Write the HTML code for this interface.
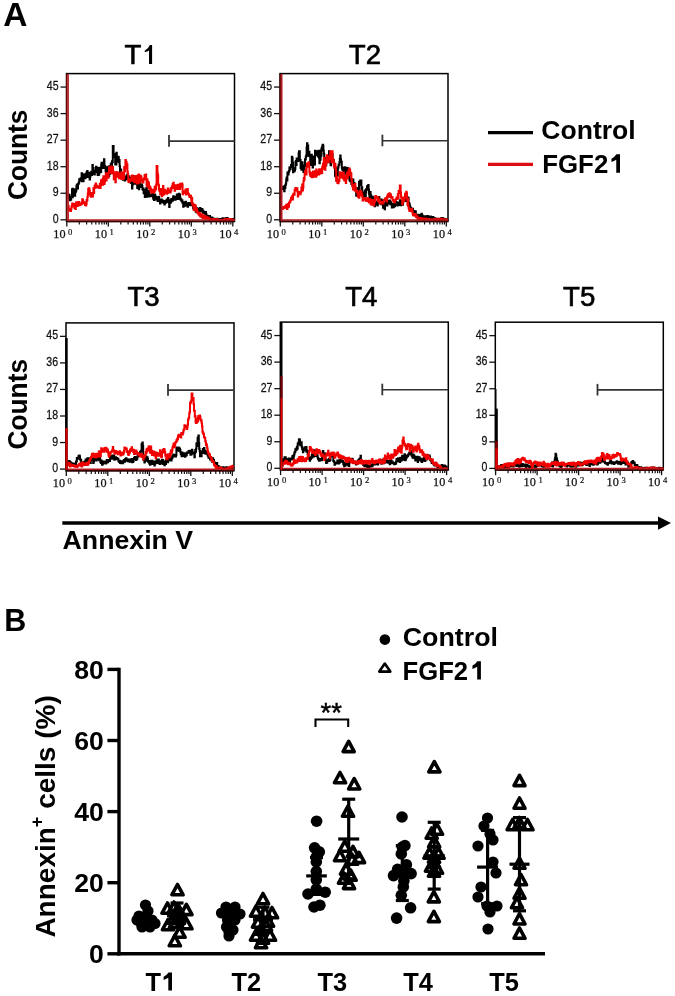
<!DOCTYPE html>
<html><head><meta charset="utf-8"><style>
html,body{margin:0;padding:0;background:#fff;}
svg{display:block;will-change:transform;}
</style></head><body>
<svg width="675" height="996" viewBox="0 0 675 996">
<rect width="675" height="996" fill="#fff"/>
<text x="124.4" y="64.0" font-size="27.6" stroke="#000" stroke-width="0.65" font-family='"Liberation Sans", sans-serif'>T</text>
<path d="M149.9 45.0 L152.1 45.0 L152.1 63.9 L149.0 63.9 L149.0 50.4 Q147.4 51.6 145.3 52.0 Q144.6 51.8 144.6 51.0 Q144.9 50.2 145.6 49.9 Q148.5 48.3 149.9 45.0 Z" fill="#000"/>
<rect x="66.50" y="73.60" width="168.00" height="147.80" fill="none" stroke="#000" stroke-width="1.5"/>
<line x1="60.50" y1="219.80" x2="66.50" y2="219.80" stroke="#111" stroke-width="1.3"/>
<text transform="translate(58.60,222.80) scale(0.86,1)" font-size="12.3" text-anchor="end" fill="#111" stroke="#111" stroke-width="0.25" font-family='"Liberation Sans", sans-serif'>0</text>
<line x1="60.50" y1="193.25" x2="66.50" y2="193.25" stroke="#111" stroke-width="1.3"/>
<text transform="translate(58.60,196.25) scale(0.86,1)" font-size="12.3" text-anchor="end" fill="#111" stroke="#111" stroke-width="0.25" font-family='"Liberation Sans", sans-serif'>9</text>
<line x1="60.50" y1="166.70" x2="66.50" y2="166.70" stroke="#111" stroke-width="1.3"/>
<text transform="translate(58.60,169.70) scale(0.86,1)" font-size="12.3" text-anchor="end" fill="#111" stroke="#111" stroke-width="0.25" font-family='"Liberation Sans", sans-serif'>18</text>
<line x1="60.50" y1="140.15" x2="66.50" y2="140.15" stroke="#111" stroke-width="1.3"/>
<text transform="translate(58.60,143.15) scale(0.86,1)" font-size="12.3" text-anchor="end" fill="#111" stroke="#111" stroke-width="0.25" font-family='"Liberation Sans", sans-serif'>27</text>
<line x1="60.50" y1="113.60" x2="66.50" y2="113.60" stroke="#111" stroke-width="1.3"/>
<text transform="translate(58.60,116.60) scale(0.86,1)" font-size="12.3" text-anchor="end" fill="#111" stroke="#111" stroke-width="0.25" font-family='"Liberation Sans", sans-serif'>36</text>
<line x1="60.50" y1="87.05" x2="66.50" y2="87.05" stroke="#111" stroke-width="1.3"/>
<text transform="translate(58.60,90.05) scale(0.86,1)" font-size="12.3" text-anchor="end" fill="#111" stroke="#111" stroke-width="0.25" font-family='"Liberation Sans", sans-serif'>45</text>
<line x1="66.80" y1="221.40" x2="66.80" y2="226.60" stroke="#111" stroke-width="1.3"/>
<line x1="79.29" y1="221.40" x2="79.29" y2="224.60" stroke="#111" stroke-width="1.2"/>
<line x1="86.60" y1="221.40" x2="86.60" y2="224.60" stroke="#111" stroke-width="1.2"/>
<line x1="91.79" y1="221.40" x2="91.79" y2="224.60" stroke="#111" stroke-width="1.2"/>
<line x1="95.81" y1="221.40" x2="95.81" y2="224.60" stroke="#111" stroke-width="1.2"/>
<line x1="99.09" y1="221.40" x2="99.09" y2="224.60" stroke="#111" stroke-width="1.2"/>
<line x1="101.87" y1="221.40" x2="101.87" y2="224.60" stroke="#111" stroke-width="1.2"/>
<line x1="104.28" y1="221.40" x2="104.28" y2="224.60" stroke="#111" stroke-width="1.2"/>
<line x1="106.40" y1="221.40" x2="106.40" y2="224.60" stroke="#111" stroke-width="1.2"/>
<text x="65.50" y="237.80" font-size="12.2" text-anchor="end" fill="#111" stroke="#111" stroke-width="0.25" font-family='"Liberation Serif", serif'>10</text>
<text x="68.10" y="234.60" font-size="8.6" fill="#111" stroke="#111" stroke-width="0.2" font-family='"Liberation Serif", serif'>0</text>
<line x1="108.30" y1="221.40" x2="108.30" y2="226.60" stroke="#111" stroke-width="1.3"/>
<line x1="120.79" y1="221.40" x2="120.79" y2="224.60" stroke="#111" stroke-width="1.2"/>
<line x1="128.10" y1="221.40" x2="128.10" y2="224.60" stroke="#111" stroke-width="1.2"/>
<line x1="133.29" y1="221.40" x2="133.29" y2="224.60" stroke="#111" stroke-width="1.2"/>
<line x1="137.31" y1="221.40" x2="137.31" y2="224.60" stroke="#111" stroke-width="1.2"/>
<line x1="140.59" y1="221.40" x2="140.59" y2="224.60" stroke="#111" stroke-width="1.2"/>
<line x1="143.37" y1="221.40" x2="143.37" y2="224.60" stroke="#111" stroke-width="1.2"/>
<line x1="145.78" y1="221.40" x2="145.78" y2="224.60" stroke="#111" stroke-width="1.2"/>
<line x1="147.90" y1="221.40" x2="147.90" y2="224.60" stroke="#111" stroke-width="1.2"/>
<text x="107.00" y="237.80" font-size="12.2" text-anchor="end" fill="#111" stroke="#111" stroke-width="0.25" font-family='"Liberation Serif", serif'>10</text>
<text x="109.60" y="234.60" font-size="8.6" fill="#111" stroke="#111" stroke-width="0.2" font-family='"Liberation Serif", serif'>1</text>
<line x1="149.80" y1="221.40" x2="149.80" y2="226.60" stroke="#111" stroke-width="1.3"/>
<line x1="162.29" y1="221.40" x2="162.29" y2="224.60" stroke="#111" stroke-width="1.2"/>
<line x1="169.60" y1="221.40" x2="169.60" y2="224.60" stroke="#111" stroke-width="1.2"/>
<line x1="174.79" y1="221.40" x2="174.79" y2="224.60" stroke="#111" stroke-width="1.2"/>
<line x1="178.81" y1="221.40" x2="178.81" y2="224.60" stroke="#111" stroke-width="1.2"/>
<line x1="182.09" y1="221.40" x2="182.09" y2="224.60" stroke="#111" stroke-width="1.2"/>
<line x1="184.87" y1="221.40" x2="184.87" y2="224.60" stroke="#111" stroke-width="1.2"/>
<line x1="187.28" y1="221.40" x2="187.28" y2="224.60" stroke="#111" stroke-width="1.2"/>
<line x1="189.40" y1="221.40" x2="189.40" y2="224.60" stroke="#111" stroke-width="1.2"/>
<text x="148.50" y="237.80" font-size="12.2" text-anchor="end" fill="#111" stroke="#111" stroke-width="0.25" font-family='"Liberation Serif", serif'>10</text>
<text x="151.10" y="234.60" font-size="8.6" fill="#111" stroke="#111" stroke-width="0.2" font-family='"Liberation Serif", serif'>2</text>
<line x1="191.30" y1="221.40" x2="191.30" y2="226.60" stroke="#111" stroke-width="1.3"/>
<line x1="203.79" y1="221.40" x2="203.79" y2="224.60" stroke="#111" stroke-width="1.2"/>
<line x1="211.10" y1="221.40" x2="211.10" y2="224.60" stroke="#111" stroke-width="1.2"/>
<line x1="216.29" y1="221.40" x2="216.29" y2="224.60" stroke="#111" stroke-width="1.2"/>
<line x1="220.31" y1="221.40" x2="220.31" y2="224.60" stroke="#111" stroke-width="1.2"/>
<line x1="223.59" y1="221.40" x2="223.59" y2="224.60" stroke="#111" stroke-width="1.2"/>
<line x1="226.37" y1="221.40" x2="226.37" y2="224.60" stroke="#111" stroke-width="1.2"/>
<line x1="228.78" y1="221.40" x2="228.78" y2="224.60" stroke="#111" stroke-width="1.2"/>
<line x1="230.90" y1="221.40" x2="230.90" y2="224.60" stroke="#111" stroke-width="1.2"/>
<text x="190.00" y="237.80" font-size="12.2" text-anchor="end" fill="#111" stroke="#111" stroke-width="0.25" font-family='"Liberation Serif", serif'>10</text>
<text x="192.60" y="234.60" font-size="8.6" fill="#111" stroke="#111" stroke-width="0.2" font-family='"Liberation Serif", serif'>3</text>
<line x1="232.80" y1="221.40" x2="232.80" y2="226.60" stroke="#111" stroke-width="1.3"/>
<text x="231.50" y="237.80" font-size="12.2" text-anchor="end" fill="#111" stroke="#111" stroke-width="0.25" font-family='"Liberation Serif", serif'>10</text>
<text x="234.10" y="234.60" font-size="8.6" fill="#111" stroke="#111" stroke-width="0.2" font-family='"Liberation Serif", serif'>4</text>
<path d="M68.00 198.23H68.40V194.60H68.80V195.31H69.20V194.98H69.60V198.35H70.00V200.33H70.40V198.34H70.80V199.61H71.20V197.13H71.60V197.10H72.00V189.29H72.40V197.34H72.80V188.76H73.20V189.72H73.60V189.73H74.00V191.92H74.40V189.56H74.80V195.81H75.20V192.18H75.60V191.57H76.00V190.62H76.40V186.31H76.80V184.81H77.20V184.56H77.60V188.52H78.00V184.17H78.40V183.51H78.80V182.57H79.20V179.24H79.60V180.84H80.00V179.74H80.40V178.62H80.80V179.56H81.20V178.09H81.60V173.27H82.00V181.30H82.40V176.84H82.80V180.60H83.20V181.25H83.60V175.12H84.00V174.29H84.40V177.17H84.80V178.36H85.20V174.14H85.60V177.39H86.00V175.70H86.40V172.57H86.80V172.17H87.20V170.94H87.60V177.11H88.00V173.26H88.40V175.49H88.80V174.98H89.20V172.86H89.60V179.57H90.00V176.82H90.40V174.05H90.80V173.47H91.20V171.66H91.60V175.00H92.00V173.92H92.40V165.03H92.80V170.15H93.20V167.94H93.60V171.17H94.00V172.62H94.40V174.43H94.80V170.92H95.20V170.71H95.60V172.21H96.00V166.81H96.40V167.61H96.80V172.13H97.20V168.07H97.60V174.97H98.00V171.48H98.40V172.15H98.80V174.64H99.20V172.73H99.60V167.73H100.00V171.97H100.40V167.84H100.80V171.94H101.20V164.57H101.60V162.70H102.00V162.70H102.40V162.72H102.80V167.99H103.20V162.46H103.60V164.90H104.00V159.16H104.40V165.75H104.80V166.01H105.20V167.97H105.60V171.30H106.00V173.06H106.40V171.04H106.80V167.31H107.20V176.89H107.60V168.03H108.00V169.37H108.40V166.71H108.80V176.08H109.20V166.33H109.60V173.75H110.00V166.75H110.40V167.54H110.80V163.44H111.20V166.63H111.60V165.31H112.00V161.20H112.40V162.16H112.80V146.00H113.20V146.00H113.60V154.58H114.00V154.86H114.40V154.05H114.80V156.68H115.20V164.47H115.60V162.14H116.00V164.51H116.40V152.69H116.80V160.67H117.20V161.44H117.60V156.70H118.00V156.70H118.40V157.37H118.80V162.23H119.20V160.10H119.60V166.27H120.00V173.52H120.40V172.47H120.80V169.48H121.20V174.23H121.60V174.46H122.00V176.04H122.40V176.92H122.80V179.86H123.20V176.64H123.60V179.17H124.00V178.66H124.40V178.80H124.80V180.42H125.20V177.04H125.60V176.43H126.00V179.25H126.40V178.94H126.80V175.43H127.20V174.87H127.60V177.91H128.00V176.05H128.40V176.19H128.80V178.69H129.20V178.59H129.60V182.27H130.00V177.70H130.40V178.74H130.80V180.32H131.20V183.11H131.60V179.47H132.00V188.49H132.40V184.86H132.80V179.46H133.20V175.98H133.60V177.75H134.00V179.53H134.40V183.78H134.80V180.44H135.20V182.88H135.60V180.88H136.00V180.97H136.40V180.03H136.80V184.16H137.20V187.96H137.60V180.93H138.00V186.05H138.40V185.70H138.80V189.22H139.20V184.66H139.60V185.86H140.00V180.28H140.40V185.42H140.80V187.11H141.20V184.48H141.60V184.57H142.00V186.11H142.40V189.11H142.80V189.86H143.20V188.41H143.60V193.25H144.00V189.67H144.40V191.88H144.80V196.90H145.20V194.77H145.60V194.46H146.00V189.47H146.40V188.00H146.80V196.66H147.20V192.72H147.60V193.67H148.00V195.39H148.40V194.16H148.80V190.76H149.20V196.53H149.60V194.99H150.00V195.37H150.40V195.75H150.80V196.05H151.20V194.75H151.60V195.76H152.00V192.22H152.40V193.93H152.80V196.63H153.20V198.76H153.60V198.23H154.00V199.99H154.40V194.83H154.80V194.49H155.20V197.15H155.60V197.78H156.00V196.69H156.40V199.50H156.80V197.98H157.20V199.44H157.60V200.97H158.00V197.52H158.40V197.41H158.80V196.69H159.20V200.02H159.60V201.01H160.00V203.59H160.40V200.81H160.80V200.80H161.20V199.51H161.60V201.91H162.00V200.19H162.40V202.33H162.80V200.70H163.20V201.52H163.60V202.66H164.00V203.03H164.40V204.43H164.80V201.11H165.20V202.69H165.60V202.57H166.00V201.09H166.40V200.37H166.80V199.42H167.20V199.71H167.60V201.84H168.00V198.00H168.40V202.04H168.80V202.69H169.20V206.89H169.60V201.28H170.00V200.24H170.40V202.77H170.80V202.01H171.20V199.09H171.60V200.08H172.00V200.76H172.40V200.68H172.80V198.31H173.20V196.34H173.60V199.75H174.00V198.79H174.40V196.67H174.80V198.11H175.20V199.82H175.60V198.01H176.00V197.13H176.40V197.06H176.80V194.52H177.20V196.10H177.60V198.88H178.00V199.03H178.40V197.98H178.80V193.67H179.20V195.65H179.60V194.44H180.00V197.45H180.40V199.59H180.80V198.89H181.20V200.34H181.60V201.17H182.00V200.19H182.40V202.49H182.80V203.07H183.20V206.75H183.60V202.20H184.00V204.82H184.40V204.90H184.80V205.83H185.20V202.98H185.60V201.65H186.00V203.14H186.40V203.23H186.80V203.83H187.20V205.59H187.60V206.87H188.00V203.49H188.40V204.50H188.80V203.11H189.20V204.97H189.60V204.79H190.00V205.00H190.40V205.32H190.80V202.96H191.20V203.92H191.60V202.77H192.00V203.26H192.40V205.10H192.80V205.57H193.20V208.43H193.60V208.11H194.00V207.80H194.40V209.75H194.80V208.56H195.20V206.18H195.60V211.51H196.00V211.44H196.40V212.18H196.80V210.54H197.20V208.25H197.60V208.95H198.00V209.83H198.40V210.27H198.80V211.07H199.20V209.48H199.60V211.19H200.00V208.08H200.40V209.08H200.80V209.81H201.20V211.32H201.60V210.33H202.00V209.10H202.40V210.55H202.80V212.86H203.20V211.28H203.60V211.75H204.00V211.89H204.40V213.64H204.80V212.54H205.20V213.37H205.60V212.04H206.00V213.96H206.40V215.71H206.80V217.65H207.20V215.67H207.60V216.28H208.00V216.89H208.40V216.05H208.80V216.51H209.20V216.88H209.60V216.05H210.00V217.82H210.40V217.71H210.80V217.83H211.20V218.83H211.60V217.50H212.00V217.67H212.40V218.43H212.80V218.58H213.20V219.72H213.60V218.74H214.00V218.64H214.40V219.03H214.80V219.02H215.20V219.44H215.60V218.96H216.00V219.20H216.40V219.38H216.80V219.35H217.20V218.87H217.60V219.05H218.00V219.54H218.40V219.17H218.80V219.17H219.20V219.23H219.60V219.00H220.00V219.09H220.40V219.57H220.80V220.30H221.20V219.58H221.60V219.26H222.00V218.71H222.40V218.84H222.80V218.30H223.20V218.85H223.60V219.02H224.00V218.63H224.40V218.38H224.80V219.23H225.20V219.11H225.60V218.20H226.00V218.69H226.40V218.79H226.80V218.09H227.20V218.98H227.60V218.54H228.00V219.23H228.40V219.59H228.80V219.71H229.20V219.90H229.60V219.41H230.00V219.49H230.40V219.47H230.80V219.97H231.20V219.43H231.60V219.24H232.00V219.40H232.40V218.88H232.80V219.51H233.20V219.84H233.60V219.19H234.00" fill="none" stroke="#000" stroke-width="2.0" stroke-linejoin="miter"/>
<path d="M68.20 205.84H68.60V208.65H69.00V209.50H69.40V210.48H69.80V209.85H70.20V210.09H70.60V210.94H71.00V209.35H71.40V207.07H71.80V205.61H72.20V203.38H72.60V204.02H73.00V205.65H73.40V204.22H73.80V204.90H74.20V207.74H74.60V203.75H75.00V208.06H75.40V208.91H75.80V204.40H76.20V202.33H76.60V204.33H77.00V205.92H77.40V205.81H77.80V204.12H78.20V205.60H78.60V201.94H79.00V204.38H79.40V203.91H79.80V204.89H80.20V203.71H80.60V204.48H81.00V204.45H81.40V202.48H81.80V203.66H82.20V199.19H82.60V199.68H83.00V201.49H83.40V203.37H83.80V202.50H84.20V202.37H84.60V202.80H85.00V205.10H85.40V205.06H85.80V205.51H86.20V203.93H86.60V200.05H87.00V200.46H87.40V197.00H87.80V193.50H88.20V188.70H88.60V188.70H89.00V188.24H89.40V190.45H89.80V194.15H90.20V195.66H90.60V194.19H91.00V196.64H91.40V193.65H91.80V192.91H92.20V193.73H92.60V196.45H93.00V193.20H93.40V188.33H93.80V192.92H94.20V188.03H94.60V185.73H95.00V187.73H95.40V184.87H95.80V183.44H96.20V187.10H96.60V185.84H97.00V186.82H97.40V187.61H97.80V186.21H98.20V187.60H98.60V187.51H99.00V186.84H99.40V187.94H99.80V183.68H100.20V188.08H100.60V185.20H101.00V181.09H101.40V179.98H101.80V179.86H102.20V182.24H102.60V184.75H103.00V178.55H103.40V176.30H103.80V178.80H104.20V183.90H104.60V181.50H105.00V176.70H105.40V177.65H105.80V173.26H106.20V180.43H106.60V176.41H107.00V177.01H107.40V173.22H107.80V177.48H108.20V177.73H108.60V172.82H109.00V167.17H109.40V171.18H109.80V172.38H110.20V172.67H110.60V169.97H111.00V166.44H111.40V167.06H111.80V169.40H112.20V173.62H112.60V167.09H113.00V173.26H113.40V171.41H113.80V179.26H114.20V174.08H114.60V175.58H115.00V177.07H115.40V182.34H115.80V173.38H116.20V172.03H116.60V176.64H117.00V173.84H117.40V174.54H117.80V175.33H118.20V172.61H118.60V177.00H119.00V178.30H119.40V175.91H119.80V173.48H120.20V177.23H120.60V177.04H121.00V178.73H121.40V172.33H121.80V172.96H122.20V173.44H122.60V178.96H123.00V177.54H123.40V176.13H123.80V178.53H124.20V166.91H124.60V171.27H125.00V168.53H125.40V160.02H125.80V163.30H126.20V161.82H126.60V164.42H127.00V164.17H127.40V171.71H127.80V173.70H128.20V180.63H128.60V181.95H129.00V181.80H129.40V178.90H129.80V181.18H130.20V180.22H130.60V180.42H131.00V178.99H131.40V176.25H131.80V175.73H132.20V175.46H132.60V178.70H133.00V180.82H133.40V176.94H133.80V179.56H134.20V182.26H134.60V179.65H135.00V177.87H135.40V175.94H135.80V181.61H136.20V182.16H136.60V182.47H137.00V183.40H137.40V183.59H137.80V175.51H138.20V179.02H138.60V174.43H139.00V177.34H139.40V182.75H139.80V179.99H140.20V175.59H140.60V179.44H141.00V176.46H141.40V181.30H141.80V179.87H142.20V179.39H142.60V179.97H143.00V182.48H143.40V179.43H143.80V178.32H144.20V179.58H144.60V175.00H145.00V176.92H145.40V178.19H145.80V174.41H146.20V179.23H146.60V185.67H147.00V179.36H147.40V186.38H147.80V181.58H148.20V185.56H148.60V182.68H149.00V188.09H149.40V188.60H149.80V186.58H150.20V190.82H150.60V188.39H151.00V192.35H151.40V191.66H151.80V192.78H152.20V191.82H152.60V191.51H153.00V189.80H153.40V192.61H153.80V192.24H154.20V191.40H154.60V187.02H155.00V190.50H155.40V186.17H155.80V189.01H156.20V184.59H156.60V165.90H157.00V165.90H157.40V173.27H157.80V175.54H158.20V184.41H158.60V185.14H159.00V189.61H159.40V191.00H159.80V191.20H160.20V193.89H160.60V189.08H161.00V191.92H161.40V194.63H161.80V196.14H162.20V194.96H162.60V194.75H163.00V186.04H163.40V193.41H163.80V194.40H164.20V189.47H164.60V190.38H165.00V191.30H165.40V192.68H165.80V192.89H166.20V191.06H166.60V193.64H167.00V190.46H167.40V192.88H167.80V188.61H168.20V192.10H168.60V192.18H169.00V190.53H169.40V190.74H169.80V192.08H170.20V192.40H170.60V188.58H171.00V190.45H171.40V187.89H171.80V186.52H172.20V188.11H172.60V184.10H173.00V184.85H173.40V182.68H173.80V186.80H174.20V186.56H174.60V190.82H175.00V188.31H175.40V185.32H175.80V188.51H176.20V189.06H176.60V186.70H177.00V187.95H177.40V188.94H177.80V184.73H178.20V185.92H178.60V186.40H179.00V188.50H179.40V185.71H179.80V188.95H180.20V183.68H180.60V185.83H181.00V184.30H181.40V186.77H181.80V183.51H182.20V184.71H182.60V194.22H183.00V191.73H183.40V191.46H183.80V192.21H184.20V193.06H184.60V191.41H185.00V191.91H185.40V189.47H185.80V194.45H186.20V190.05H186.60V191.63H187.00V191.20H187.40V189.07H187.80V193.33H188.20V193.66H188.60V194.39H189.00V195.02H189.40V196.99H189.80V195.94H190.20V195.88H190.60V195.82H191.00V198.30H191.40V202.12H191.80V197.74H192.20V204.45H192.60V204.85H193.00V203.77H193.40V205.91H193.80V210.11H194.20V206.12H194.60V207.18H195.00V204.91H195.40V207.58H195.80V208.45H196.20V211.53H196.60V209.03H197.00V210.91H197.40V211.90H197.80V213.37H198.20V213.45H198.60V214.13H199.00V214.64H199.40V212.73H199.80V215.77H200.20V215.34H200.60V216.68H201.00V214.85H201.40V214.17H201.80V214.30H202.20V216.24H202.60V218.37H203.00V217.55H203.40V217.73H203.80V216.23H204.20V215.69H204.60V216.28H205.00V217.72H205.40V218.72H205.80V216.46H206.20V216.89H206.60V218.14H207.00V218.28H207.40V218.45H207.80V218.86H208.20V217.58H208.60V218.44H209.00V218.99H209.40V219.19H209.80V219.40H210.20V219.18H210.60V219.80H211.00V219.56H211.40V219.23H211.80V219.38H212.20V219.50H212.60V219.18H213.00V219.11H213.40V219.75H213.80V219.32H214.20V219.81H214.60V219.88H215.00V219.64H215.40V219.19H215.80V219.45H216.20V219.98H216.60V219.83H217.00V219.81H217.40V219.19H217.80V219.35H218.20V219.95H218.60V220.30H219.00V220.30H219.40V220.30H219.80V219.89H220.20V220.30H220.60V219.88H221.00V219.99H221.40V219.90H221.80V220.14H222.20V219.91H222.60V219.87H223.00V219.86H223.40V220.23H223.80V220.30H224.20V219.46H224.60V219.72H225.00V219.13H225.40V219.30H225.80V219.64H226.20V219.35H226.60V219.02H227.00V219.59H227.40V219.40H227.80V219.28H228.20V219.33H228.60V219.10H229.00V219.10H229.40V219.69H229.80V219.08H230.20V219.42H230.60V219.36H231.00V220.20H231.40V220.06H231.80V220.30H232.20V219.79H232.60V219.42H233.00V219.79H233.40V219.87H233.80V219.85H234.20" fill="none" stroke="#f20000" stroke-width="2.0" stroke-linejoin="miter"/>
<line x1="67.50" y1="220.00" x2="234.50" y2="220.00" stroke="#b41a1e" stroke-width="1.7"/>
<line x1="67.50" y1="221.50" x2="234.50" y2="221.50" stroke="#3a0000" stroke-width="1.3"/>
<text x="348.8" y="64.0" font-size="27.6" stroke="#000" stroke-width="0.65" font-family='"Liberation Sans", sans-serif'>T2</text>
<rect x="280.00" y="73.60" width="168.00" height="147.80" fill="none" stroke="#000" stroke-width="1.5"/>
<line x1="274.00" y1="219.80" x2="280.00" y2="219.80" stroke="#111" stroke-width="1.3"/>
<text transform="translate(272.10,222.80) scale(0.86,1)" font-size="12.3" text-anchor="end" fill="#111" stroke="#111" stroke-width="0.25" font-family='"Liberation Sans", sans-serif'>0</text>
<line x1="274.00" y1="193.25" x2="280.00" y2="193.25" stroke="#111" stroke-width="1.3"/>
<text transform="translate(272.10,196.25) scale(0.86,1)" font-size="12.3" text-anchor="end" fill="#111" stroke="#111" stroke-width="0.25" font-family='"Liberation Sans", sans-serif'>9</text>
<line x1="274.00" y1="166.70" x2="280.00" y2="166.70" stroke="#111" stroke-width="1.3"/>
<text transform="translate(272.10,169.70) scale(0.86,1)" font-size="12.3" text-anchor="end" fill="#111" stroke="#111" stroke-width="0.25" font-family='"Liberation Sans", sans-serif'>18</text>
<line x1="274.00" y1="140.15" x2="280.00" y2="140.15" stroke="#111" stroke-width="1.3"/>
<text transform="translate(272.10,143.15) scale(0.86,1)" font-size="12.3" text-anchor="end" fill="#111" stroke="#111" stroke-width="0.25" font-family='"Liberation Sans", sans-serif'>27</text>
<line x1="274.00" y1="113.60" x2="280.00" y2="113.60" stroke="#111" stroke-width="1.3"/>
<text transform="translate(272.10,116.60) scale(0.86,1)" font-size="12.3" text-anchor="end" fill="#111" stroke="#111" stroke-width="0.25" font-family='"Liberation Sans", sans-serif'>36</text>
<line x1="274.00" y1="87.05" x2="280.00" y2="87.05" stroke="#111" stroke-width="1.3"/>
<text transform="translate(272.10,90.05) scale(0.86,1)" font-size="12.3" text-anchor="end" fill="#111" stroke="#111" stroke-width="0.25" font-family='"Liberation Sans", sans-serif'>45</text>
<line x1="280.30" y1="221.40" x2="280.30" y2="226.60" stroke="#111" stroke-width="1.3"/>
<line x1="292.79" y1="221.40" x2="292.79" y2="224.60" stroke="#111" stroke-width="1.2"/>
<line x1="300.10" y1="221.40" x2="300.10" y2="224.60" stroke="#111" stroke-width="1.2"/>
<line x1="305.29" y1="221.40" x2="305.29" y2="224.60" stroke="#111" stroke-width="1.2"/>
<line x1="309.31" y1="221.40" x2="309.31" y2="224.60" stroke="#111" stroke-width="1.2"/>
<line x1="312.59" y1="221.40" x2="312.59" y2="224.60" stroke="#111" stroke-width="1.2"/>
<line x1="315.37" y1="221.40" x2="315.37" y2="224.60" stroke="#111" stroke-width="1.2"/>
<line x1="317.78" y1="221.40" x2="317.78" y2="224.60" stroke="#111" stroke-width="1.2"/>
<line x1="319.90" y1="221.40" x2="319.90" y2="224.60" stroke="#111" stroke-width="1.2"/>
<text x="279.00" y="237.80" font-size="12.2" text-anchor="end" fill="#111" stroke="#111" stroke-width="0.25" font-family='"Liberation Serif", serif'>10</text>
<text x="281.60" y="234.60" font-size="8.6" fill="#111" stroke="#111" stroke-width="0.2" font-family='"Liberation Serif", serif'>0</text>
<line x1="321.80" y1="221.40" x2="321.80" y2="226.60" stroke="#111" stroke-width="1.3"/>
<line x1="334.29" y1="221.40" x2="334.29" y2="224.60" stroke="#111" stroke-width="1.2"/>
<line x1="341.60" y1="221.40" x2="341.60" y2="224.60" stroke="#111" stroke-width="1.2"/>
<line x1="346.79" y1="221.40" x2="346.79" y2="224.60" stroke="#111" stroke-width="1.2"/>
<line x1="350.81" y1="221.40" x2="350.81" y2="224.60" stroke="#111" stroke-width="1.2"/>
<line x1="354.09" y1="221.40" x2="354.09" y2="224.60" stroke="#111" stroke-width="1.2"/>
<line x1="356.87" y1="221.40" x2="356.87" y2="224.60" stroke="#111" stroke-width="1.2"/>
<line x1="359.28" y1="221.40" x2="359.28" y2="224.60" stroke="#111" stroke-width="1.2"/>
<line x1="361.40" y1="221.40" x2="361.40" y2="224.60" stroke="#111" stroke-width="1.2"/>
<text x="320.50" y="237.80" font-size="12.2" text-anchor="end" fill="#111" stroke="#111" stroke-width="0.25" font-family='"Liberation Serif", serif'>10</text>
<text x="323.10" y="234.60" font-size="8.6" fill="#111" stroke="#111" stroke-width="0.2" font-family='"Liberation Serif", serif'>1</text>
<line x1="363.30" y1="221.40" x2="363.30" y2="226.60" stroke="#111" stroke-width="1.3"/>
<line x1="375.79" y1="221.40" x2="375.79" y2="224.60" stroke="#111" stroke-width="1.2"/>
<line x1="383.10" y1="221.40" x2="383.10" y2="224.60" stroke="#111" stroke-width="1.2"/>
<line x1="388.29" y1="221.40" x2="388.29" y2="224.60" stroke="#111" stroke-width="1.2"/>
<line x1="392.31" y1="221.40" x2="392.31" y2="224.60" stroke="#111" stroke-width="1.2"/>
<line x1="395.59" y1="221.40" x2="395.59" y2="224.60" stroke="#111" stroke-width="1.2"/>
<line x1="398.37" y1="221.40" x2="398.37" y2="224.60" stroke="#111" stroke-width="1.2"/>
<line x1="400.78" y1="221.40" x2="400.78" y2="224.60" stroke="#111" stroke-width="1.2"/>
<line x1="402.90" y1="221.40" x2="402.90" y2="224.60" stroke="#111" stroke-width="1.2"/>
<text x="362.00" y="237.80" font-size="12.2" text-anchor="end" fill="#111" stroke="#111" stroke-width="0.25" font-family='"Liberation Serif", serif'>10</text>
<text x="364.60" y="234.60" font-size="8.6" fill="#111" stroke="#111" stroke-width="0.2" font-family='"Liberation Serif", serif'>2</text>
<line x1="404.80" y1="221.40" x2="404.80" y2="226.60" stroke="#111" stroke-width="1.3"/>
<line x1="417.29" y1="221.40" x2="417.29" y2="224.60" stroke="#111" stroke-width="1.2"/>
<line x1="424.60" y1="221.40" x2="424.60" y2="224.60" stroke="#111" stroke-width="1.2"/>
<line x1="429.79" y1="221.40" x2="429.79" y2="224.60" stroke="#111" stroke-width="1.2"/>
<line x1="433.81" y1="221.40" x2="433.81" y2="224.60" stroke="#111" stroke-width="1.2"/>
<line x1="437.09" y1="221.40" x2="437.09" y2="224.60" stroke="#111" stroke-width="1.2"/>
<line x1="439.87" y1="221.40" x2="439.87" y2="224.60" stroke="#111" stroke-width="1.2"/>
<line x1="442.28" y1="221.40" x2="442.28" y2="224.60" stroke="#111" stroke-width="1.2"/>
<line x1="444.40" y1="221.40" x2="444.40" y2="224.60" stroke="#111" stroke-width="1.2"/>
<text x="403.50" y="237.80" font-size="12.2" text-anchor="end" fill="#111" stroke="#111" stroke-width="0.25" font-family='"Liberation Serif", serif'>10</text>
<text x="406.10" y="234.60" font-size="8.6" fill="#111" stroke="#111" stroke-width="0.2" font-family='"Liberation Serif", serif'>3</text>
<line x1="446.30" y1="221.40" x2="446.30" y2="226.60" stroke="#111" stroke-width="1.3"/>
<text x="445.00" y="237.80" font-size="12.2" text-anchor="end" fill="#111" stroke="#111" stroke-width="0.25" font-family='"Liberation Serif", serif'>10</text>
<text x="447.60" y="234.60" font-size="8.6" fill="#111" stroke="#111" stroke-width="0.2" font-family='"Liberation Serif", serif'>4</text>
<path d="M282.20 186.64H282.60V188.88H283.00V187.62H283.40V188.17H283.80V188.81H284.20V191.15H284.60V186.02H285.00V187.88H285.40V184.91H285.80V183.47H286.20V179.59H286.60V177.39H287.00V180.50H287.40V172.49H287.80V173.93H288.20V174.57H288.60V171.83H289.00V170.98H289.40V167.55H289.80V169.40H290.20V168.94H290.60V166.92H291.00V164.95H291.40V166.38H291.80V156.70H292.20V157.93H292.60V162.56H293.00V172.21H293.40V168.32H293.80V170.93H294.20V171.18H294.60V170.23H295.00V168.67H295.40V162.22H295.80V160.99H296.20V165.04H296.60V158.59H297.00V160.54H297.40V160.08H297.80V161.03H298.20V160.38H298.60V153.32H299.00V151.30H299.40V151.30H299.80V160.51H300.20V159.95H300.60V168.05H301.00V163.61H301.40V169.63H301.80V167.53H302.20V162.27H302.60V165.90H303.00V165.50H303.40V172.00H303.80V167.36H304.20V170.79H304.60V166.11H305.00V159.35H305.40V159.47H305.80V156.84H306.20V155.45H306.60V147.30H307.00V143.30H307.40V145.47H307.80V145.44H308.20V154.48H308.60V156.01H309.00V151.79H309.40V154.79H309.80V156.17H310.20V165.04H310.60V160.13H311.00V160.37H311.40V154.86H311.80V158.65H312.20V164.89H312.60V167.38H313.00V164.88H313.40V161.95H313.80V156.39H314.20V164.26H314.60V164.50H315.00V150.63H315.40V154.52H315.80V154.05H316.20V151.25H316.60V154.89H317.00V151.30H317.40V151.30H317.80V156.51H318.20V152.56H318.60V150.85H319.00V157.64H319.40V163.21H319.80V155.72H320.20V159.73H320.60V150.75H321.00V155.75H321.40V148.76H321.80V147.84H322.20V146.53H322.60V144.70H323.00V145.86H323.40V150.39H323.80V153.78H324.20V157.88H324.60V158.20H325.00V164.86H325.40V162.31H325.80V165.45H326.20V160.35H326.60V161.23H327.00V162.20H327.40V159.50H327.80V160.98H328.20V161.08H328.60V157.40H329.00V151.30H329.40V151.30H329.80V160.80H330.20V162.55H330.60V165.16H331.00V157.43H331.40V157.90H331.80V155.90H332.20V153.93H332.60V159.93H333.00V160.62H333.40V160.00H333.80V163.05H334.20V165.00H334.60V166.40H335.00V175.73H335.40V167.96H335.80V176.92H336.20V170.48H336.60V179.95H337.00V170.16H337.40V175.60H337.80V168.74H338.20V166.68H338.60V164.81H339.00V164.80H339.40V162.36H339.80V159.06H340.20V155.60H340.60V159.30H341.00V162.05H341.40V161.79H341.80V167.86H342.20V169.79H342.60V168.25H343.00V167.57H343.40V173.46H343.80V169.27H344.20V172.54H344.60V170.61H345.00V167.26H345.40V171.70H345.80V169.21H346.20V173.94H346.60V170.65H347.00V171.73H347.40V168.12H347.80V172.67H348.20V172.64H348.60V177.93H349.00V175.53H349.40V180.18H349.80V179.22H350.20V181.29H350.60V178.57H351.00V179.58H351.40V183.96H351.80V182.50H352.20V184.53H352.60V183.38H353.00V179.40H353.40V188.60H353.80V187.24H354.20V182.92H354.60V184.44H355.00V188.76H355.40V188.53H355.80V189.14H356.20V195.71H356.60V190.30H357.00V191.69H357.40V188.37H357.80V191.49H358.20V188.03H358.60V189.59H359.00V181.79H359.40V184.40H359.80V184.89H360.20V180.47H360.60V180.70H361.00V180.42H361.40V190.12H361.80V187.29H362.20V191.24H362.60V196.22H363.00V194.82H363.40V193.96H363.80V192.87H364.20V197.71H364.60V196.33H365.00V190.61H365.40V196.13H365.80V192.40H366.20V189.00H366.60V189.84H367.00V186.23H367.40V186.30H367.80V186.30H368.20V185.07H368.60V189.75H369.00V193.75H369.40V196.91H369.80V192.38H370.20V191.92H370.60V195.27H371.00V196.57H371.40V199.98H371.80V199.76H372.20V196.41H372.60V198.35H373.00V197.57H373.40V199.84H373.80V201.44H374.20V201.88H374.60V206.23H375.00V203.20H375.40V203.42H375.80V204.26H376.20V201.58H376.60V204.39H377.00V203.59H377.40V205.46H377.80V203.44H378.20V202.15H378.60V199.17H379.00V196.99H379.40V199.40H379.80V199.40H380.20V202.28H380.60V203.51H381.00V204.15H381.40V199.41H381.80V201.68H382.20V201.12H382.60V204.53H383.00V207.76H383.40V203.23H383.80V203.84H384.20V203.46H384.60V209.22H385.00V204.63H385.40V205.26H385.80V201.68H386.20V203.83H386.60V205.47H387.00V205.46H387.40V203.80H387.80V201.41H388.20V200.68H388.60V201.59H389.00V203.17H389.40V201.46H389.80V200.47H390.20V204.29H390.60V202.33H391.00V204.22H391.40V203.89H391.80V207.58H392.20V203.77H392.60V206.19H393.00V206.58H393.40V207.33H393.80V203.32H394.20V203.26H394.60V206.30H395.00V203.50H395.40V204.06H395.80V205.04H396.20V201.91H396.60V204.72H397.00V202.81H397.40V205.49H397.80V203.70H398.20V203.29H398.60V204.89H399.00V203.37H399.40V202.38H399.80V200.35H400.20V204.16H400.60V205.31H401.00V201.36H401.40V204.11H401.80V202.23H402.20V201.93H402.60V204.68H403.00V202.35H403.40V199.03H403.80V200.15H404.20V200.30H404.60V200.22H405.00V199.55H405.40V199.56H405.80V201.01H406.20V199.71H406.60V195.38H407.00V199.36H407.40V201.54H407.80V197.51H408.20V198.07H408.60V202.98H409.00V203.03H409.40V204.49H409.80V206.32H410.20V207.71H410.60V207.66H411.00V209.05H411.40V210.33H411.80V208.68H412.20V209.10H412.60V208.78H413.00V212.25H413.40V212.81H413.80V211.05H414.20V213.57H414.60V213.20H415.00V214.22H415.40V211.22H415.80V215.11H416.20V214.68H416.60V217.20H417.00V216.50H417.40V215.47H417.80V214.86H418.20V216.60H418.60V217.53H419.00V215.06H419.40V216.56H419.80V215.54H420.20V216.40H420.60V215.16H421.00V216.01H421.40V213.72H421.80V214.65H422.20V215.67H422.60V216.93H423.00V216.30H423.40V217.51H423.80V217.49H424.20V216.29H424.60V218.58H425.00V218.18H425.40V218.60H425.80V216.98H426.20V216.33H426.60V218.94H427.00V218.20H427.40V216.03H427.80V216.79H428.20V217.25H428.60V216.59H429.00V217.43H429.40V216.87H429.80V217.58H430.20V216.42H430.60V216.83H431.00V217.69H431.40V218.25H431.80V218.02H432.20V218.23H432.60V218.19H433.00V217.00H433.40V218.84H433.80V218.35H434.20V218.83H434.60V218.24H435.00V218.31H435.40V219.00H435.80V218.93H436.20V218.90H436.60V219.53H437.00V219.25H437.40V220.30H437.80V218.94H438.20V218.75H438.60V219.30H439.00V219.50H439.40V219.11H439.80V219.65H440.20V219.58H440.60V219.65H441.00V218.16H441.40V219.20H441.80V218.91H442.20V218.08H442.60V218.61H443.00V219.31H443.40V219.23H443.80V219.47H444.20V218.79H444.60V219.50H445.00V219.89H445.40V219.45H445.80V220.29H446.20V219.68H446.60V220.01H447.00V219.54H447.40V219.25H447.80" fill="none" stroke="#000" stroke-width="2.0" stroke-linejoin="miter"/>
<path d="M281.80 208.44H282.20V209.00H282.60V207.33H283.00V208.56H283.40V208.05H283.80V207.56H284.20V207.09H284.60V206.97H285.00V206.33H285.40V207.73H285.80V207.55H286.20V204.87H286.60V207.92H287.00V209.10H287.40V207.57H287.80V204.10H288.20V204.49H288.60V206.87H289.00V202.47H289.40V202.52H289.80V202.50H290.20V200.64H290.60V199.98H291.00V197.81H291.40V199.43H291.80V197.46H292.20V196.08H292.60V199.49H293.00V195.07H293.40V193.83H293.80V194.39H294.20V194.79H294.60V189.77H295.00V190.23H295.40V187.92H295.80V190.59H296.20V189.01H296.60V188.68H297.00V188.33H297.40V191.41H297.80V196.49H298.20V194.50H298.60V192.04H299.00V192.44H299.40V193.66H299.80V193.38H300.20V194.29H300.60V192.50H301.00V191.53H301.40V187.45H301.80V189.25H302.20V184.44H302.60V190.38H303.00V187.50H303.40V181.37H303.80V178.05H304.20V179.53H304.60V173.66H305.00V170.88H305.40V173.50H305.80V170.41H306.20V174.54H306.60V166.79H307.00V163.71H307.40V166.24H307.80V163.30H308.20V165.67H308.60V162.22H309.00V166.73H309.40V172.01H309.80V174.20H310.20V175.71H310.60V172.76H311.00V176.13H311.40V176.69H311.80V175.30H312.20V177.35H312.60V174.89H313.00V171.62H313.40V172.40H313.80V176.64H314.20V175.05H314.60V174.13H315.00V171.15H315.40V174.90H315.80V176.72H316.20V169.43H316.60V175.31H317.00V171.50H317.40V172.01H317.80V174.29H318.20V172.40H318.60V174.56H319.00V169.49H319.40V173.63H319.80V169.22H320.20V171.19H320.60V170.73H321.00V173.36H321.40V170.48H321.80V173.04H322.20V166.86H322.60V167.10H323.00V163.64H323.40V167.29H323.80V157.93H324.20V168.64H324.60V165.98H325.00V169.66H325.40V163.15H325.80V164.67H326.20V159.77H326.60V155.33H327.00V161.16H327.40V157.53H327.80V156.31H328.20V162.21H328.60V156.30H329.00V159.41H329.40V156.60H329.80V158.59H330.20V151.29H330.60V154.89H331.00V159.56H331.40V162.28H331.80V154.03H332.20V151.36H332.60V159.05H333.00V159.74H333.40V160.29H333.80V165.70H334.20V167.65H334.60V166.63H335.00V163.87H335.40V166.76H335.80V170.30H336.20V181.01H336.60V176.89H337.00V179.95H337.40V182.94H337.80V180.53H338.20V183.28H338.60V179.75H339.00V181.02H339.40V176.51H339.80V172.20H340.20V177.29H340.60V177.43H341.00V172.70H341.40V172.70H341.80V176.62H342.20V176.56H342.60V174.23H343.00V178.41H343.40V172.40H343.80V176.65H344.20V180.42H344.60V177.33H345.00V175.74H345.40V180.68H345.80V182.99H346.20V177.53H346.60V178.58H347.00V172.53H347.40V178.11H347.80V173.91H348.20V172.26H348.60V170.40H349.00V174.67H349.40V168.46H349.80V170.15H350.20V175.18H350.60V173.07H351.00V173.57H351.40V179.23H351.80V182.68H352.20V186.27H352.60V184.96H353.00V189.43H353.40V188.59H353.80V185.95H354.20V189.47H354.60V190.57H355.00V184.02H355.40V187.31H355.80V190.95H356.20V190.61H356.60V191.76H357.00V191.36H357.40V192.78H357.80V195.89H358.20V196.89H358.60V196.06H359.00V197.85H359.40V195.61H359.80V190.92H360.20V190.93H360.60V190.79H361.00V192.58H361.40V193.49H361.80V195.29H362.20V196.57H362.60V200.41H363.00V199.04H363.40V199.14H363.80V197.99H364.20V197.93H364.60V198.81H365.00V199.13H365.40V200.37H365.80V199.96H366.20V200.93H366.60V200.99H367.00V199.87H367.40V197.99H367.80V198.55H368.20V201.15H368.60V199.77H369.00V202.24H369.40V202.50H369.80V199.04H370.20V201.54H370.60V204.03H371.00V202.75H371.40V204.87H371.80V200.00H372.20V202.35H372.60V199.88H373.00V201.62H373.40V200.55H373.80V205.52H374.20V202.48H374.60V201.82H375.00V197.64H375.40V196.00H375.80V196.19H376.20V197.11H376.60V197.30H377.00V197.30H377.40V199.20H377.80V200.90H378.20V197.38H378.60V200.94H379.00V202.27H379.40V199.95H379.80V203.15H380.20V202.43H380.60V203.68H381.00V201.71H381.40V203.21H381.80V201.99H382.20V202.29H382.60V202.96H383.00V203.56H383.40V202.02H383.80V199.98H384.20V199.70H384.60V200.09H385.00V198.39H385.40V200.00H385.80V198.91H386.20V198.11H386.60V201.55H387.00V196.61H387.40V197.59H387.80V194.57H388.20V196.62H388.60V194.12H389.00V196.57H389.40V193.15H389.80V196.44H390.20V196.91H390.60V194.48H391.00V197.86H391.40V197.00H391.80V197.74H392.20V197.37H392.60V200.03H393.00V200.21H393.40V200.94H393.80V201.04H394.20V202.30H394.60V202.49H395.00V200.26H395.40V199.70H395.80V199.59H396.20V198.86H396.60V197.62H397.00V199.12H397.40V198.22H397.80V194.22H398.20V198.08H398.60V190.99H399.00V193.10H399.40V192.47H399.80V185.60H400.20V185.60H400.60V192.44H401.00V196.72H401.40V198.30H401.80V198.01H402.20V204.15H402.60V202.28H403.00V200.67H403.40V197.83H403.80V200.39H404.20V199.69H404.60V196.66H405.00V193.79H405.40V197.60H405.80V197.60H406.20V191.86H406.60V193.14H407.00V198.54H407.40V204.75H407.80V199.06H408.20V206.05H408.60V208.17H409.00V209.27H409.40V211.02H409.80V209.39H410.20V210.88H410.60V208.82H411.00V209.69H411.40V211.18H411.80V208.83H412.20V211.22H412.60V213.73H413.00V215.20H413.40V213.80H413.80V214.16H414.20V215.37H414.60V215.86H415.00V214.09H415.40V215.27H415.80V214.94H416.20V217.12H416.60V216.70H417.00V216.62H417.40V217.41H417.80V218.99H418.20V218.18H418.60V218.02H419.00V218.21H419.40V218.84H419.80V220.06H420.20V218.52H420.60V217.98H421.00V217.89H421.40V218.43H421.80V219.45H422.20V219.56H422.60V220.14H423.00V219.17H423.40V219.13H423.80V218.45H424.20V218.75H424.60V219.16H425.00V218.42H425.40V218.39H425.80V219.43H426.20V218.92H426.60V219.18H427.00V219.84H427.40V219.17H427.80V219.10H428.20V219.86H428.60V219.40H429.00V219.75H429.40V219.55H429.80V219.14H430.20V219.14H430.60V219.85H431.00V219.68H431.40V219.63H431.80V219.86H432.20V219.54H432.60V220.30H433.00V219.67H433.40V219.83H433.80V219.49H434.20V219.06H434.60V220.09H435.00V220.20H435.40V220.11H435.80V219.39H436.20V219.96H436.60V219.70H437.00V219.65H437.40V218.63H437.80V219.13H438.20V219.33H438.60V219.48H439.00V219.27H439.40V219.28H439.80V219.85H440.20V219.31H440.60V218.79H441.00V218.70H441.40V218.68H441.80V219.32H442.20V219.56H442.60V219.28H443.00V219.20H443.40V220.26H443.80V220.02H444.20V219.71H444.60V219.31H445.00V220.26H445.40V219.68H445.80V219.73H446.20V220.01H446.60V219.76H447.00V219.96H447.40V219.77H447.80" fill="none" stroke="#f20000" stroke-width="2.0" stroke-linejoin="miter"/>
<line x1="281.00" y1="220.00" x2="448.00" y2="220.00" stroke="#b41a1e" stroke-width="1.7"/>
<line x1="281.00" y1="221.50" x2="448.00" y2="221.50" stroke="#3a0000" stroke-width="1.3"/>
<text x="127.5" y="306.1" font-size="27.6" stroke="#000" stroke-width="0.65" font-family='"Liberation Sans", sans-serif'>T3</text>
<rect x="66.00" y="322.90" width="168.00" height="147.80" fill="none" stroke="#000" stroke-width="1.5"/>
<line x1="60.00" y1="469.10" x2="66.00" y2="469.10" stroke="#111" stroke-width="1.3"/>
<text transform="translate(58.10,472.10) scale(0.86,1)" font-size="12.3" text-anchor="end" fill="#111" stroke="#111" stroke-width="0.25" font-family='"Liberation Sans", sans-serif'>0</text>
<line x1="60.00" y1="442.55" x2="66.00" y2="442.55" stroke="#111" stroke-width="1.3"/>
<text transform="translate(58.10,445.55) scale(0.86,1)" font-size="12.3" text-anchor="end" fill="#111" stroke="#111" stroke-width="0.25" font-family='"Liberation Sans", sans-serif'>9</text>
<line x1="60.00" y1="416.00" x2="66.00" y2="416.00" stroke="#111" stroke-width="1.3"/>
<text transform="translate(58.10,419.00) scale(0.86,1)" font-size="12.3" text-anchor="end" fill="#111" stroke="#111" stroke-width="0.25" font-family='"Liberation Sans", sans-serif'>18</text>
<line x1="60.00" y1="389.45" x2="66.00" y2="389.45" stroke="#111" stroke-width="1.3"/>
<text transform="translate(58.10,392.45) scale(0.86,1)" font-size="12.3" text-anchor="end" fill="#111" stroke="#111" stroke-width="0.25" font-family='"Liberation Sans", sans-serif'>27</text>
<line x1="60.00" y1="362.90" x2="66.00" y2="362.90" stroke="#111" stroke-width="1.3"/>
<text transform="translate(58.10,365.90) scale(0.86,1)" font-size="12.3" text-anchor="end" fill="#111" stroke="#111" stroke-width="0.25" font-family='"Liberation Sans", sans-serif'>36</text>
<line x1="60.00" y1="336.35" x2="66.00" y2="336.35" stroke="#111" stroke-width="1.3"/>
<text transform="translate(58.10,339.35) scale(0.86,1)" font-size="12.3" text-anchor="end" fill="#111" stroke="#111" stroke-width="0.25" font-family='"Liberation Sans", sans-serif'>45</text>
<line x1="66.30" y1="470.70" x2="66.30" y2="475.90" stroke="#111" stroke-width="1.3"/>
<line x1="78.79" y1="470.70" x2="78.79" y2="473.90" stroke="#111" stroke-width="1.2"/>
<line x1="86.10" y1="470.70" x2="86.10" y2="473.90" stroke="#111" stroke-width="1.2"/>
<line x1="91.29" y1="470.70" x2="91.29" y2="473.90" stroke="#111" stroke-width="1.2"/>
<line x1="95.31" y1="470.70" x2="95.31" y2="473.90" stroke="#111" stroke-width="1.2"/>
<line x1="98.59" y1="470.70" x2="98.59" y2="473.90" stroke="#111" stroke-width="1.2"/>
<line x1="101.37" y1="470.70" x2="101.37" y2="473.90" stroke="#111" stroke-width="1.2"/>
<line x1="103.78" y1="470.70" x2="103.78" y2="473.90" stroke="#111" stroke-width="1.2"/>
<line x1="105.90" y1="470.70" x2="105.90" y2="473.90" stroke="#111" stroke-width="1.2"/>
<text x="65.00" y="487.10" font-size="12.2" text-anchor="end" fill="#111" stroke="#111" stroke-width="0.25" font-family='"Liberation Serif", serif'>10</text>
<text x="67.60" y="483.90" font-size="8.6" fill="#111" stroke="#111" stroke-width="0.2" font-family='"Liberation Serif", serif'>0</text>
<line x1="107.80" y1="470.70" x2="107.80" y2="475.90" stroke="#111" stroke-width="1.3"/>
<line x1="120.29" y1="470.70" x2="120.29" y2="473.90" stroke="#111" stroke-width="1.2"/>
<line x1="127.60" y1="470.70" x2="127.60" y2="473.90" stroke="#111" stroke-width="1.2"/>
<line x1="132.79" y1="470.70" x2="132.79" y2="473.90" stroke="#111" stroke-width="1.2"/>
<line x1="136.81" y1="470.70" x2="136.81" y2="473.90" stroke="#111" stroke-width="1.2"/>
<line x1="140.09" y1="470.70" x2="140.09" y2="473.90" stroke="#111" stroke-width="1.2"/>
<line x1="142.87" y1="470.70" x2="142.87" y2="473.90" stroke="#111" stroke-width="1.2"/>
<line x1="145.28" y1="470.70" x2="145.28" y2="473.90" stroke="#111" stroke-width="1.2"/>
<line x1="147.40" y1="470.70" x2="147.40" y2="473.90" stroke="#111" stroke-width="1.2"/>
<text x="106.50" y="487.10" font-size="12.2" text-anchor="end" fill="#111" stroke="#111" stroke-width="0.25" font-family='"Liberation Serif", serif'>10</text>
<text x="109.10" y="483.90" font-size="8.6" fill="#111" stroke="#111" stroke-width="0.2" font-family='"Liberation Serif", serif'>1</text>
<line x1="149.30" y1="470.70" x2="149.30" y2="475.90" stroke="#111" stroke-width="1.3"/>
<line x1="161.79" y1="470.70" x2="161.79" y2="473.90" stroke="#111" stroke-width="1.2"/>
<line x1="169.10" y1="470.70" x2="169.10" y2="473.90" stroke="#111" stroke-width="1.2"/>
<line x1="174.29" y1="470.70" x2="174.29" y2="473.90" stroke="#111" stroke-width="1.2"/>
<line x1="178.31" y1="470.70" x2="178.31" y2="473.90" stroke="#111" stroke-width="1.2"/>
<line x1="181.59" y1="470.70" x2="181.59" y2="473.90" stroke="#111" stroke-width="1.2"/>
<line x1="184.37" y1="470.70" x2="184.37" y2="473.90" stroke="#111" stroke-width="1.2"/>
<line x1="186.78" y1="470.70" x2="186.78" y2="473.90" stroke="#111" stroke-width="1.2"/>
<line x1="188.90" y1="470.70" x2="188.90" y2="473.90" stroke="#111" stroke-width="1.2"/>
<text x="148.00" y="487.10" font-size="12.2" text-anchor="end" fill="#111" stroke="#111" stroke-width="0.25" font-family='"Liberation Serif", serif'>10</text>
<text x="150.60" y="483.90" font-size="8.6" fill="#111" stroke="#111" stroke-width="0.2" font-family='"Liberation Serif", serif'>2</text>
<line x1="190.80" y1="470.70" x2="190.80" y2="475.90" stroke="#111" stroke-width="1.3"/>
<line x1="203.29" y1="470.70" x2="203.29" y2="473.90" stroke="#111" stroke-width="1.2"/>
<line x1="210.60" y1="470.70" x2="210.60" y2="473.90" stroke="#111" stroke-width="1.2"/>
<line x1="215.79" y1="470.70" x2="215.79" y2="473.90" stroke="#111" stroke-width="1.2"/>
<line x1="219.81" y1="470.70" x2="219.81" y2="473.90" stroke="#111" stroke-width="1.2"/>
<line x1="223.09" y1="470.70" x2="223.09" y2="473.90" stroke="#111" stroke-width="1.2"/>
<line x1="225.87" y1="470.70" x2="225.87" y2="473.90" stroke="#111" stroke-width="1.2"/>
<line x1="228.28" y1="470.70" x2="228.28" y2="473.90" stroke="#111" stroke-width="1.2"/>
<line x1="230.40" y1="470.70" x2="230.40" y2="473.90" stroke="#111" stroke-width="1.2"/>
<text x="189.50" y="487.10" font-size="12.2" text-anchor="end" fill="#111" stroke="#111" stroke-width="0.25" font-family='"Liberation Serif", serif'>10</text>
<text x="192.10" y="483.90" font-size="8.6" fill="#111" stroke="#111" stroke-width="0.2" font-family='"Liberation Serif", serif'>3</text>
<line x1="232.30" y1="470.70" x2="232.30" y2="475.90" stroke="#111" stroke-width="1.3"/>
<text x="231.00" y="487.10" font-size="12.2" text-anchor="end" fill="#111" stroke="#111" stroke-width="0.25" font-family='"Liberation Serif", serif'>10</text>
<text x="233.60" y="483.90" font-size="8.6" fill="#111" stroke="#111" stroke-width="0.2" font-family='"Liberation Serif", serif'>4</text>
<path d="M68.00 462.99H68.40V463.94H68.80V461.56H69.20V461.00H69.60V463.32H70.00V461.94H70.40V462.78H70.80V464.13H71.20V465.83H71.60V463.35H72.00V464.22H72.40V465.20H72.80V465.72H73.20V463.46H73.60V464.89H74.00V465.36H74.40V463.65H74.80V464.02H75.20V464.16H75.60V465.08H76.00V462.04H76.40V460.90H76.80V458.00H77.20V458.29H77.60V458.70H78.00V458.70H78.40V456.21H78.80V458.49H79.20V455.50H79.60V456.48H80.00V459.12H80.40V460.22H80.80V459.90H81.20V462.86H81.60V462.20H82.00V464.50H82.40V462.96H82.80V462.42H83.20V462.94H83.60V463.12H84.00V462.40H84.40V461.80H84.80V461.92H85.20V461.19H85.60V459.44H86.00V461.09H86.40V461.60H86.80V461.22H87.20V458.45H87.60V459.40H88.00V458.21H88.40V459.82H88.80V458.70H89.20V458.35H89.60V460.73H90.00V461.66H90.40V463.01H90.80V458.30H91.20V457.34H91.60V458.52H92.00V459.14H92.40V458.38H92.80V459.91H93.20V463.07H93.60V461.56H94.00V458.60H94.40V458.46H94.80V460.13H95.20V459.19H95.60V459.91H96.00V459.87H96.40V460.41H96.80V458.62H97.20V459.19H97.60V457.17H98.00V459.18H98.40V458.11H98.80V456.89H99.20V460.28H99.60V457.78H100.00V459.73H100.40V461.90H100.80V462.97H101.20V460.56H101.60V461.51H102.00V464.65H102.40V464.13H102.80V462.88H103.20V461.48H103.60V461.68H104.00V461.43H104.40V463.28H104.80V462.83H105.20V461.44H105.60V463.44H106.00V463.00H106.40V461.94H106.80V459.96H107.20V460.56H107.60V462.15H108.00V461.08H108.40V461.23H108.80V460.97H109.20V459.96H109.60V461.01H110.00V457.05H110.40V455.92H110.80V457.33H111.20V458.78H111.60V457.20H112.00V458.35H112.40V455.42H112.80V458.11H113.20V458.87H113.60V455.38H114.00V456.39H114.40V459.76H114.80V459.10H115.20V457.15H115.60V457.33H116.00V458.01H116.40V458.22H116.80V458.06H117.20V459.37H117.60V459.13H118.00V458.83H118.40V460.72H118.80V461.58H119.20V461.92H119.60V460.80H120.00V462.94H120.40V461.90H120.80V461.34H121.20V463.31H121.60V462.41H122.00V461.98H122.40V462.89H122.80V463.37H123.20V461.25H123.60V460.41H124.00V460.11H124.40V460.44H124.80V461.66H125.20V458.94H125.60V460.28H126.00V458.37H126.40V459.30H126.80V459.35H127.20V460.63H127.60V460.77H128.00V461.23H128.40V460.03H128.80V461.06H129.20V459.42H129.60V461.80H130.00V461.69H130.40V459.52H130.80V461.57H131.20V460.33H131.60V459.06H132.00V462.18H132.40V460.12H132.80V462.06H133.20V461.20H133.60V459.21H134.00V457.96H134.40V457.73H134.80V456.99H135.20V457.23H135.60V457.96H136.00V460.07H136.40V457.62H136.80V459.01H137.20V457.52H137.60V454.18H138.00V455.05H138.40V453.72H138.80V455.09H139.20V456.08H139.60V453.98H140.00V452.33H140.40V451.88H140.80V451.01H141.20V450.67H141.60V444.00H142.00V444.00H142.40V442.59H142.80V446.28H143.20V455.18H143.60V459.66H144.00V458.76H144.40V462.38H144.80V460.12H145.20V457.57H145.60V458.13H146.00V456.56H146.40V460.72H146.80V458.37H147.20V457.15H147.60V459.36H148.00V461.77H148.40V461.00H148.80V461.14H149.20V463.47H149.60V462.45H150.00V464.67H150.40V462.96H150.80V463.26H151.20V460.75H151.60V463.63H152.00V460.86H152.40V464.10H152.80V462.78H153.20V462.52H153.60V462.85H154.00V461.59H154.40V465.39H154.80V463.16H155.20V462.17H155.60V461.70H156.00V463.34H156.40V461.07H156.80V460.13H157.20V462.91H157.60V459.67H158.00V459.57H158.40V459.52H158.80V461.99H159.20V462.82H159.60V463.98H160.00V461.26H160.40V461.86H160.80V463.51H161.20V463.52H161.60V460.87H162.00V459.81H162.40V461.82H162.80V460.12H163.20V464.07H163.60V463.21H164.00V463.29H164.40V465.17H164.80V463.34H165.20V461.45H165.60V463.94H166.00V460.49H166.40V458.88H166.80V461.02H167.20V461.05H167.60V462.16H168.00V459.02H168.40V459.03H168.80V457.95H169.20V458.87H169.60V458.28H170.00V460.62H170.40V459.25H170.80V458.12H171.20V460.56H171.60V457.62H172.00V458.31H172.40V456.20H172.80V456.00H173.20V454.55H173.60V456.52H174.00V455.69H174.40V455.02H174.80V456.52H175.20V455.14H175.60V456.51H176.00V454.89H176.40V447.68H176.80V450.44H177.20V447.53H177.60V449.19H178.00V448.09H178.40V447.48H178.80V449.62H179.20V450.97H179.60V448.39H180.00V450.03H180.40V452.17H180.80V454.21H181.20V454.05H181.60V456.24H182.00V452.55H182.40V453.24H182.80V455.30H183.20V454.87H183.60V456.11H184.00V453.36H184.40V455.62H184.80V456.63H185.20V454.59H185.60V455.74H186.00V453.38H186.40V455.21H186.80V452.59H187.20V452.98H187.60V452.76H188.00V452.82H188.40V451.34H188.80V452.17H189.20V451.08H189.60V451.02H190.00V450.66H190.40V454.63H190.80V452.22H191.20V454.38H191.60V451.72H192.00V449.72H192.40V453.22H192.80V453.54H193.20V452.43H193.60V452.84H194.00V453.56H194.40V457.28H194.80V452.63H195.20V449.95H195.60V451.84H196.00V448.80H196.40V443.62H196.80V446.12H197.20V443.10H197.60V437.79H198.00V437.70H198.40V435.59H198.80V443.08H199.20V448.64H199.60V451.06H200.00V456.15H200.40V456.23H200.80V453.51H201.20V456.30H201.60V451.42H202.00V452.51H202.40V451.76H202.80V448.95H203.20V452.40H203.60V453.08H204.00V448.06H204.40V451.44H204.80V450.65H205.20V453.40H205.60V453.71H206.00V452.56H206.40V451.13H206.80V452.36H207.20V451.25H207.60V455.45H208.00V453.63H208.40V457.53H208.80V457.83H209.20V457.42H209.60V457.59H210.00V459.50H210.40V459.39H210.80V457.51H211.20V458.56H211.60V460.75H212.00V460.59H212.40V461.94H212.80V458.27H213.20V460.57H213.60V459.89H214.00V461.93H214.40V463.14H214.80V463.02H215.20V464.57H215.60V463.98H216.00V465.35H216.40V464.73H216.80V463.12H217.20V466.10H217.60V466.66H218.00V465.94H218.40V466.59H218.80V466.38H219.20V467.46H219.60V469.26H220.00V467.71H220.40V467.89H220.80V467.49H221.20V468.51H221.60V468.11H222.00V468.22H222.40V468.06H222.80V467.21H223.20V468.80H223.60V468.36H224.00V468.90H224.40V468.71H224.80V469.32H225.20V467.43H225.60V467.45H226.00V467.96H226.40V467.20H226.80V467.94H227.20V467.69H227.60V467.84H228.00V468.46H228.40V468.81H228.80V467.87H229.20V467.39H229.60V468.72H230.00V468.09H230.40V468.69H230.80V469.50H231.20V469.07H231.60V468.79H232.00V468.55H232.40V469.34H232.80V469.04H233.20V468.65H233.60" fill="none" stroke="#000" stroke-width="2.0" stroke-linejoin="miter"/>
<path d="M68.00 464.28H68.40V465.46H68.80V463.07H69.20V464.87H69.60V465.45H70.00V466.44H70.40V464.27H70.80V464.38H71.20V465.26H71.60V464.93H72.00V465.01H72.40V466.10H72.80V465.32H73.20V465.49H73.60V465.37H74.00V465.94H74.40V466.47H74.80V466.01H75.20V466.64H75.60V465.77H76.00V466.38H76.40V465.65H76.80V467.01H77.20V465.86H77.60V465.79H78.00V466.30H78.40V464.67H78.80V464.98H79.20V463.93H79.60V465.21H80.00V463.53H80.40V464.54H80.80V465.21H81.20V465.93H81.60V466.61H82.00V462.44H82.40V465.10H82.80V464.02H83.20V465.35H83.60V464.53H84.00V464.74H84.40V463.22H84.80V463.62H85.20V464.91H85.60V464.16H86.00V465.10H86.40V464.65H86.80V464.88H87.20V462.47H87.60V464.84H88.00V464.56H88.40V462.83H88.80V462.78H89.20V460.88H89.60V460.29H90.00V458.94H90.40V459.21H90.80V457.79H91.20V457.01H91.60V455.39H92.00V453.98H92.40V456.34H92.80V453.59H93.20V455.01H93.60V457.09H94.00V454.03H94.40V454.81H94.80V454.23H95.20V455.97H95.60V457.48H96.00V454.58H96.40V453.85H96.80V455.24H97.20V456.00H97.60V456.83H98.00V453.74H98.40V456.23H98.80V451.53H99.20V456.78H99.60V451.20H100.00V453.82H100.40V456.29H100.80V452.24H101.20V448.18H101.60V451.30H102.00V450.50H102.40V451.32H102.80V451.74H103.20V449.37H103.60V450.94H104.00V451.65H104.40V448.00H104.80V450.20H105.20V448.36H105.60V448.09H106.00V447.71H106.40V450.59H106.80V451.86H107.20V449.14H107.60V450.60H108.00V452.33H108.40V454.63H108.80V456.64H109.20V454.72H109.60V452.83H110.00V454.72H110.40V452.58H110.80V452.20H111.20V451.76H111.60V451.70H112.00V451.05H112.40V449.78H112.80V446.97H113.20V449.89H113.60V450.70H114.00V450.70H114.40V453.66H114.80V451.75H115.20V452.11H115.60V451.57H116.00V451.09H116.40V451.96H116.80V452.66H117.20V453.37H117.60V454.32H118.00V452.13H118.40V453.87H118.80V451.96H119.20V452.53H119.60V451.18H120.00V453.48H120.40V455.61H120.80V453.07H121.20V453.91H121.60V452.45H122.00V454.80H122.40V454.58H122.80V454.42H123.20V453.70H123.60V452.54H124.00V450.73H124.40V447.57H124.80V447.88H125.20V448.26H125.60V448.66H126.00V449.37H126.40V448.61H126.80V451.95H127.20V451.58H127.60V451.25H128.00V454.09H128.40V454.88H128.80V453.26H129.20V451.21H129.60V452.87H130.00V449.75H130.40V450.98H130.80V449.09H131.20V450.18H131.60V447.28H132.00V450.53H132.40V449.41H132.80V449.72H133.20V452.06H133.60V449.90H134.00V454.09H134.40V453.00H134.80V452.37H135.20V453.99H135.60V451.23H136.00V450.47H136.40V451.64H136.80V453.29H137.20V453.24H137.60V452.94H138.00V453.57H138.40V455.25H138.80V455.33H139.20V455.12H139.60V453.74H140.00V456.48H140.40V456.24H140.80V454.12H141.20V454.09H141.60V454.26H142.00V456.97H142.40V455.27H142.80V455.90H143.20V459.51H143.60V455.70H144.00V457.49H144.40V456.16H144.80V456.10H145.20V454.98H145.60V451.92H146.00V453.27H146.40V449.45H146.80V451.77H147.20V449.06H147.60V448.45H148.00V450.53H148.40V447.65H148.80V446.29H149.20V448.85H149.60V447.60H150.00V452.15H150.40V452.99H150.80V446.39H151.20V450.65H151.60V450.78H152.00V454.96H152.40V452.45H152.80V452.19H153.20V451.61H153.60V451.55H154.00V455.56H154.40V452.92H154.80V454.25H155.20V452.17H155.60V458.26H156.00V455.66H156.40V453.89H156.80V452.64H157.20V452.94H157.60V455.36H158.00V455.83H158.40V453.67H158.80V453.94H159.20V454.73H159.60V454.26H160.00V450.29H160.40V455.77H160.80V454.42H161.20V457.21H161.60V456.51H162.00V451.87H162.40V451.78H162.80V449.90H163.20V452.46H163.60V449.00H164.00V449.00H164.40V450.54H164.80V451.88H165.20V455.35H165.60V456.13H166.00V454.63H166.40V459.11H166.80V457.79H167.20V459.21H167.60V457.55H168.00V454.17H168.40V456.46H168.80V454.75H169.20V457.13H169.60V457.11H170.00V453.48H170.40V454.69H170.80V450.86H171.20V450.19H171.60V452.61H172.00V450.19H172.40V447.63H172.80V446.40H173.20V445.42H173.60V443.39H174.00V445.46H174.40V447.25H174.80V445.10H175.20V442.99H175.60V442.00H176.00V442.10H176.40V440.19H176.80V440.76H177.20V438.51H177.60V439.29H178.00V435.72H178.40V436.49H178.80V434.73H179.20V435.42H179.60V435.91H180.00V436.68H180.40V435.31H180.80V437.40H181.20V433.16H181.60V432.90H182.00V433.88H182.40V434.58H182.80V433.19H183.20V431.42H183.60V429.42H184.00V429.44H184.40V425.34H184.80V426.31H185.20V426.39H185.60V427.15H186.00V427.02H186.40V425.92H186.80V429.11H187.20V427.07H187.60V424.41H188.00V419.92H188.40V418.50H188.80V417.85H189.20V413.57H189.60V411.86H190.00V403.59H190.40V401.92H190.80V402.44H191.20V400.32H191.60V393.40H192.00V393.40H192.40V399.20H192.80V400.17H193.20V398.08H193.60V404.00H194.00V410.75H194.40V410.86H194.80V416.58H195.20V416.20H195.60V422.18H196.00V423.01H196.40V422.64H196.80V420.13H197.20V418.91H197.60V421.53H198.00V417.50H198.40V416.01H198.80V416.48H199.20V418.73H199.60V415.46H200.00V416.87H200.40V419.53H200.80V420.78H201.20V420.17H201.60V423.13H202.00V426.13H202.40V431.44H202.80V432.55H203.20V433.89H203.60V433.80H204.00V436.90H204.40V437.42H204.80V437.89H205.20V440.77H205.60V442.56H206.00V444.92H206.40V444.30H206.80V446.41H207.20V448.57H207.60V451.30H208.00V452.32H208.40V454.10H208.80V453.84H209.20V455.54H209.60V454.48H210.00V456.75H210.40V457.08H210.80V457.15H211.20V459.60H211.60V459.08H212.00V460.94H212.40V460.87H212.80V461.26H213.20V462.29H213.60V462.14H214.00V464.75H214.40V465.44H214.80V465.12H215.20V465.92H215.60V467.76H216.00V466.09H216.40V466.77H216.80V467.86H217.20V468.08H217.60V468.71H218.00V467.88H218.40V468.37H218.80V468.53H219.20V468.02H219.60V468.59H220.00V467.35H220.40V467.44H220.80V468.36H221.20V468.37H221.60V468.74H222.00V468.46H222.40V468.94H222.80V469.50H223.20V468.87H223.60V468.65H224.00V468.68H224.40V469.21H224.80V468.79H225.20V468.59H225.60V469.50H226.00V468.96H226.40V468.90H226.80V469.16H227.20V468.64H227.60V468.42H228.00V468.80H228.40V467.43H228.80V468.14H229.20V467.78H229.60V467.47H230.00V468.23H230.40V467.38H230.80V466.55H231.20V467.30H231.60V467.18H232.00V467.38H232.40V465.91H232.80V465.79H233.20" fill="none" stroke="#f20000" stroke-width="2.0" stroke-linejoin="miter"/>
<line x1="67.00" y1="469.30" x2="234.00" y2="469.30" stroke="#b41a1e" stroke-width="1.7"/>
<line x1="67.00" y1="470.80" x2="234.00" y2="470.80" stroke="#3a0000" stroke-width="1.3"/>
<text x="345.2" y="306.0" font-size="27.6" stroke="#000" stroke-width="0.65" font-family='"Liberation Sans", sans-serif'>T4</text>
<rect x="280.30" y="322.10" width="168.00" height="147.80" fill="none" stroke="#000" stroke-width="1.5"/>
<line x1="274.30" y1="468.30" x2="280.30" y2="468.30" stroke="#111" stroke-width="1.3"/>
<text transform="translate(272.40,471.30) scale(0.86,1)" font-size="12.3" text-anchor="end" fill="#111" stroke="#111" stroke-width="0.25" font-family='"Liberation Sans", sans-serif'>0</text>
<line x1="274.30" y1="441.75" x2="280.30" y2="441.75" stroke="#111" stroke-width="1.3"/>
<text transform="translate(272.40,444.75) scale(0.86,1)" font-size="12.3" text-anchor="end" fill="#111" stroke="#111" stroke-width="0.25" font-family='"Liberation Sans", sans-serif'>9</text>
<line x1="274.30" y1="415.20" x2="280.30" y2="415.20" stroke="#111" stroke-width="1.3"/>
<text transform="translate(272.40,418.20) scale(0.86,1)" font-size="12.3" text-anchor="end" fill="#111" stroke="#111" stroke-width="0.25" font-family='"Liberation Sans", sans-serif'>18</text>
<line x1="274.30" y1="388.65" x2="280.30" y2="388.65" stroke="#111" stroke-width="1.3"/>
<text transform="translate(272.40,391.65) scale(0.86,1)" font-size="12.3" text-anchor="end" fill="#111" stroke="#111" stroke-width="0.25" font-family='"Liberation Sans", sans-serif'>27</text>
<line x1="274.30" y1="362.10" x2="280.30" y2="362.10" stroke="#111" stroke-width="1.3"/>
<text transform="translate(272.40,365.10) scale(0.86,1)" font-size="12.3" text-anchor="end" fill="#111" stroke="#111" stroke-width="0.25" font-family='"Liberation Sans", sans-serif'>36</text>
<line x1="274.30" y1="335.55" x2="280.30" y2="335.55" stroke="#111" stroke-width="1.3"/>
<text transform="translate(272.40,338.55) scale(0.86,1)" font-size="12.3" text-anchor="end" fill="#111" stroke="#111" stroke-width="0.25" font-family='"Liberation Sans", sans-serif'>45</text>
<line x1="280.60" y1="469.90" x2="280.60" y2="475.10" stroke="#111" stroke-width="1.3"/>
<line x1="293.09" y1="469.90" x2="293.09" y2="473.10" stroke="#111" stroke-width="1.2"/>
<line x1="300.40" y1="469.90" x2="300.40" y2="473.10" stroke="#111" stroke-width="1.2"/>
<line x1="305.59" y1="469.90" x2="305.59" y2="473.10" stroke="#111" stroke-width="1.2"/>
<line x1="309.61" y1="469.90" x2="309.61" y2="473.10" stroke="#111" stroke-width="1.2"/>
<line x1="312.89" y1="469.90" x2="312.89" y2="473.10" stroke="#111" stroke-width="1.2"/>
<line x1="315.67" y1="469.90" x2="315.67" y2="473.10" stroke="#111" stroke-width="1.2"/>
<line x1="318.08" y1="469.90" x2="318.08" y2="473.10" stroke="#111" stroke-width="1.2"/>
<line x1="320.20" y1="469.90" x2="320.20" y2="473.10" stroke="#111" stroke-width="1.2"/>
<text x="279.30" y="486.30" font-size="12.2" text-anchor="end" fill="#111" stroke="#111" stroke-width="0.25" font-family='"Liberation Serif", serif'>10</text>
<text x="281.90" y="483.10" font-size="8.6" fill="#111" stroke="#111" stroke-width="0.2" font-family='"Liberation Serif", serif'>0</text>
<line x1="322.10" y1="469.90" x2="322.10" y2="475.10" stroke="#111" stroke-width="1.3"/>
<line x1="334.59" y1="469.90" x2="334.59" y2="473.10" stroke="#111" stroke-width="1.2"/>
<line x1="341.90" y1="469.90" x2="341.90" y2="473.10" stroke="#111" stroke-width="1.2"/>
<line x1="347.09" y1="469.90" x2="347.09" y2="473.10" stroke="#111" stroke-width="1.2"/>
<line x1="351.11" y1="469.90" x2="351.11" y2="473.10" stroke="#111" stroke-width="1.2"/>
<line x1="354.39" y1="469.90" x2="354.39" y2="473.10" stroke="#111" stroke-width="1.2"/>
<line x1="357.17" y1="469.90" x2="357.17" y2="473.10" stroke="#111" stroke-width="1.2"/>
<line x1="359.58" y1="469.90" x2="359.58" y2="473.10" stroke="#111" stroke-width="1.2"/>
<line x1="361.70" y1="469.90" x2="361.70" y2="473.10" stroke="#111" stroke-width="1.2"/>
<text x="320.80" y="486.30" font-size="12.2" text-anchor="end" fill="#111" stroke="#111" stroke-width="0.25" font-family='"Liberation Serif", serif'>10</text>
<text x="323.40" y="483.10" font-size="8.6" fill="#111" stroke="#111" stroke-width="0.2" font-family='"Liberation Serif", serif'>1</text>
<line x1="363.60" y1="469.90" x2="363.60" y2="475.10" stroke="#111" stroke-width="1.3"/>
<line x1="376.09" y1="469.90" x2="376.09" y2="473.10" stroke="#111" stroke-width="1.2"/>
<line x1="383.40" y1="469.90" x2="383.40" y2="473.10" stroke="#111" stroke-width="1.2"/>
<line x1="388.59" y1="469.90" x2="388.59" y2="473.10" stroke="#111" stroke-width="1.2"/>
<line x1="392.61" y1="469.90" x2="392.61" y2="473.10" stroke="#111" stroke-width="1.2"/>
<line x1="395.89" y1="469.90" x2="395.89" y2="473.10" stroke="#111" stroke-width="1.2"/>
<line x1="398.67" y1="469.90" x2="398.67" y2="473.10" stroke="#111" stroke-width="1.2"/>
<line x1="401.08" y1="469.90" x2="401.08" y2="473.10" stroke="#111" stroke-width="1.2"/>
<line x1="403.20" y1="469.90" x2="403.20" y2="473.10" stroke="#111" stroke-width="1.2"/>
<text x="362.30" y="486.30" font-size="12.2" text-anchor="end" fill="#111" stroke="#111" stroke-width="0.25" font-family='"Liberation Serif", serif'>10</text>
<text x="364.90" y="483.10" font-size="8.6" fill="#111" stroke="#111" stroke-width="0.2" font-family='"Liberation Serif", serif'>2</text>
<line x1="405.10" y1="469.90" x2="405.10" y2="475.10" stroke="#111" stroke-width="1.3"/>
<line x1="417.59" y1="469.90" x2="417.59" y2="473.10" stroke="#111" stroke-width="1.2"/>
<line x1="424.90" y1="469.90" x2="424.90" y2="473.10" stroke="#111" stroke-width="1.2"/>
<line x1="430.09" y1="469.90" x2="430.09" y2="473.10" stroke="#111" stroke-width="1.2"/>
<line x1="434.11" y1="469.90" x2="434.11" y2="473.10" stroke="#111" stroke-width="1.2"/>
<line x1="437.39" y1="469.90" x2="437.39" y2="473.10" stroke="#111" stroke-width="1.2"/>
<line x1="440.17" y1="469.90" x2="440.17" y2="473.10" stroke="#111" stroke-width="1.2"/>
<line x1="442.58" y1="469.90" x2="442.58" y2="473.10" stroke="#111" stroke-width="1.2"/>
<line x1="444.70" y1="469.90" x2="444.70" y2="473.10" stroke="#111" stroke-width="1.2"/>
<text x="403.80" y="486.30" font-size="12.2" text-anchor="end" fill="#111" stroke="#111" stroke-width="0.25" font-family='"Liberation Serif", serif'>10</text>
<text x="406.40" y="483.10" font-size="8.6" fill="#111" stroke="#111" stroke-width="0.2" font-family='"Liberation Serif", serif'>3</text>
<line x1="446.60" y1="469.90" x2="446.60" y2="475.10" stroke="#111" stroke-width="1.3"/>
<text x="445.30" y="486.30" font-size="12.2" text-anchor="end" fill="#111" stroke="#111" stroke-width="0.25" font-family='"Liberation Serif", serif'>10</text>
<text x="447.90" y="483.10" font-size="8.6" fill="#111" stroke="#111" stroke-width="0.2" font-family='"Liberation Serif", serif'>4</text>
<path d="M282.50 461.87H282.90V459.46H283.30V460.92H283.70V459.24H284.10V459.44H284.50V457.37H284.90V457.30H285.30V457.30H285.70V458.74H286.10V460.58H286.50V461.53H286.90V459.35H287.30V461.57H287.70V459.83H288.10V462.33H288.50V458.78H288.90V458.55H289.30V460.08H289.70V462.51H290.10V458.96H290.50V458.48H290.90V459.45H291.30V459.35H291.70V458.41H292.10V457.38H292.50V455.76H292.90V458.36H293.30V459.12H293.70V455.68H294.10V454.29H294.50V452.36H294.90V452.20H295.30V449.16H295.70V449.45H296.10V450.13H296.50V448.32H296.90V446.64H297.30V448.70H297.70V443.61H298.10V443.92H298.50V442.50H298.90V439.57H299.30V439.26H299.70V440.53H300.10V445.27H300.50V444.82H300.90V444.33H301.30V442.37H301.70V446.73H302.10V449.24H302.50V448.58H302.90V452.15H303.30V450.21H303.70V450.43H304.10V449.50H304.50V447.51H304.90V450.57H305.30V448.27H305.70V447.12H306.10V446.88H306.50V451.65H306.90V450.38H307.30V450.91H307.70V454.12H308.10V456.32H308.50V459.03H308.90V458.56H309.30V457.53H309.70V460.84H310.10V458.20H310.50V459.09H310.90V458.15H311.30V456.88H311.70V455.05H312.10V457.43H312.50V455.60H312.90V452.96H313.30V453.42H313.70V456.54H314.10V452.81H314.50V450.26H314.90V454.24H315.30V456.00H315.70V453.07H316.10V454.60H316.50V455.26H316.90V456.37H317.30V455.38H317.70V457.83H318.10V459.19H318.50V458.74H318.90V460.56H319.30V460.63H319.70V458.95H320.10V459.74H320.50V459.79H320.90V459.11H321.30V459.78H321.70V460.20H322.10V455.54H322.50V453.02H322.90V451.05H323.30V453.24H323.70V453.30H324.10V453.30H324.50V453.78H324.90V457.44H325.30V458.85H325.70V460.47H326.10V462.97H326.50V461.18H326.90V462.52H327.30V460.69H327.70V461.02H328.10V459.85H328.50V459.71H328.90V458.81H329.30V460.93H329.70V458.76H330.10V459.97H330.50V455.03H330.90V455.48H331.30V456.15H331.70V454.70H332.10V454.70H332.50V454.96H332.90V456.36H333.30V461.01H333.70V461.36H334.10V461.85H334.50V464.81H334.90V463.04H335.30V462.97H335.70V462.94H336.10V463.49H336.50V463.17H336.90V462.78H337.30V460.51H337.70V463.06H338.10V463.06H338.50V463.38H338.90V462.38H339.30V462.66H339.70V460.00H340.10V460.00H340.50V461.32H340.90V461.49H341.30V461.74H341.70V461.80H342.10V460.52H342.50V461.06H342.90V462.01H343.30V464.37H343.70V462.94H344.10V466.24H344.50V463.78H344.90V464.77H345.30V465.59H345.70V464.55H346.10V463.41H346.50V461.98H346.90V461.68H347.30V462.79H347.70V462.08H348.10V465.18H348.50V462.29H348.90V466.03H349.30V461.40H349.70V461.55H350.10V459.52H350.50V460.00H350.90V459.07H351.30V460.16H351.70V459.84H352.10V458.80H352.50V459.44H352.90V462.81H353.30V461.29H353.70V462.86H354.10V462.94H354.50V462.66H354.90V462.34H355.30V461.72H355.70V463.14H356.10V464.61H356.50V461.72H356.90V463.69H357.30V463.09H357.70V462.29H358.10V460.32H358.50V461.13H358.90V460.94H359.30V458.76H359.70V458.70H360.10V458.70H360.50V455.78H360.90V461.83H361.30V460.18H361.70V460.90H362.10V461.80H362.50V463.32H362.90V462.92H363.30V464.91H363.70V464.59H364.10V465.77H364.50V464.98H364.90V466.15H365.30V465.00H365.70V464.78H366.10V464.40H366.50V464.87H366.90V466.72H367.30V466.77H367.70V465.76H368.10V467.33H368.50V466.59H368.90V467.08H369.30V465.60H369.70V464.85H370.10V465.47H370.50V466.44H370.90V464.40H371.30V465.80H371.70V466.04H372.10V466.18H372.50V464.96H372.90V463.19H373.30V463.42H373.70V462.41H374.10V464.29H374.50V464.47H374.90V462.04H375.30V462.57H375.70V462.32H376.10V463.99H376.50V464.17H376.90V461.97H377.30V463.04H377.70V464.46H378.10V462.33H378.50V461.99H378.90V462.33H379.30V460.40H379.70V462.04H380.10V459.81H380.50V462.20H380.90V461.52H381.30V463.67H381.70V462.37H382.10V460.58H382.50V460.20H382.90V460.98H383.30V460.27H383.70V458.71H384.10V462.94H384.50V462.15H384.90V460.56H385.30V459.69H385.70V460.06H386.10V461.93H386.50V460.37H386.90V461.42H387.30V462.55H387.70V462.32H388.10V462.75H388.50V461.23H388.90V460.68H389.30V461.27H389.70V464.22H390.10V462.49H390.50V463.28H390.90V460.25H391.30V463.20H391.70V462.57H392.10V461.61H392.50V462.47H392.90V462.68H393.30V462.72H393.70V463.25H394.10V464.21H394.50V464.10H394.90V463.50H395.30V463.42H395.70V463.73H396.10V461.59H396.50V459.17H396.90V459.11H397.30V461.10H397.70V460.23H398.10V458.30H398.50V461.17H398.90V459.97H399.30V459.27H399.70V462.08H400.10V461.02H400.50V457.77H400.90V458.76H401.30V460.56H401.70V458.23H402.10V455.85H402.50V456.48H402.90V455.73H403.30V456.41H403.70V459.74H404.10V457.43H404.50V454.36H404.90V455.04H405.30V460.32H405.70V458.70H406.10V457.81H406.50V457.19H406.90V456.10H407.30V455.70H407.70V456.24H408.10V455.00H408.50V454.10H408.90V453.78H409.30V452.87H409.70V453.03H410.10V453.17H410.50V450.69H410.90V454.59H411.30V452.93H411.70V455.72H412.10V455.33H412.50V457.72H412.90V454.47H413.30V454.77H413.70V457.19H414.10V455.52H414.50V458.36H414.90V457.12H415.30V460.58H415.70V458.70H416.10V457.78H416.50V458.83H416.90V457.57H417.30V456.83H417.70V461.99H418.10V460.02H418.50V457.80H418.90V459.29H419.30V457.23H419.70V460.15H420.10V460.11H420.50V460.25H420.90V458.81H421.30V461.11H421.70V462.06H422.10V461.32H422.50V459.41H422.90V460.56H423.30V459.70H423.70V457.74H424.10V460.23H424.50V458.55H424.90V461.00H425.30V458.01H425.70V459.31H426.10V459.19H426.50V459.44H426.90V455.15H427.30V456.96H427.70V456.08H428.10V457.26H428.50V458.62H428.90V458.17H429.30V455.42H429.70V457.32H430.10V459.51H430.50V460.26H430.90V460.30H431.30V461.37H431.70V462.93H432.10V462.01H432.50V462.87H432.90V463.11H433.30V463.44H433.70V464.62H434.10V464.31H434.50V465.51H434.90V462.82H435.30V463.54H435.70V464.85H436.10V465.46H436.50V464.57H436.90V464.57H437.30V466.74H437.70V467.31H438.10V466.12H438.50V466.96H438.90V467.40H439.30V466.17H439.70V466.57H440.10V465.97H440.50V467.73H440.90V466.15H441.30V466.19H441.70V464.91H442.10V465.47H442.50V466.34H442.90V466.95H443.30V465.41H443.70V465.86H444.10V466.64H444.50V465.53H444.90V466.89H445.30V467.53H445.70V466.78H446.10V466.50H446.50V467.73H446.90V468.16H447.30" fill="none" stroke="#000" stroke-width="2.0" stroke-linejoin="miter"/>
<path d="M282.50 465.70H282.90V463.92H283.30V463.10H283.70V463.31H284.10V462.46H284.50V463.86H284.90V463.36H285.30V460.82H285.70V462.21H286.10V461.94H286.50V460.95H286.90V463.17H287.30V463.29H287.70V464.14H288.10V464.09H288.50V462.38H288.90V463.72H289.30V462.94H289.70V463.44H290.10V464.51H290.50V464.46H290.90V464.64H291.30V465.76H291.70V465.45H292.10V465.53H292.50V463.41H292.90V464.33H293.30V463.43H293.70V461.07H294.10V459.96H294.50V462.62H294.90V463.01H295.30V461.60H295.70V461.12H296.10V460.46H296.50V460.74H296.90V462.41H297.30V461.16H297.70V459.12H298.10V459.88H298.50V460.95H298.90V457.96H299.30V457.09H299.70V461.00H300.10V459.72H300.50V458.46H300.90V459.56H301.30V456.82H301.70V461.16H302.10V457.40H302.50V457.12H302.90V458.03H303.30V461.03H303.70V459.24H304.10V458.69H304.50V460.95H304.90V461.29H305.30V460.55H305.70V460.89H306.10V459.18H306.50V457.88H306.90V457.95H307.30V458.89H307.70V455.20H308.10V454.65H308.50V455.75H308.90V451.65H309.30V451.18H309.70V447.04H310.10V448.87H310.50V447.47H310.90V449.93H311.30V449.95H311.70V449.46H312.10V453.08H312.50V449.66H312.90V451.44H313.30V451.54H313.70V452.05H314.10V451.38H314.50V453.39H314.90V452.43H315.30V454.89H315.70V451.74H316.10V451.72H316.50V449.37H316.90V451.55H317.30V453.33H317.70V453.26H318.10V452.59H318.50V452.02H318.90V450.01H319.30V452.01H319.70V451.26H320.10V451.94H320.50V454.40H320.90V453.77H321.30V455.99H321.70V454.49H322.10V454.27H322.50V454.45H322.90V454.50H323.30V456.51H323.70V456.76H324.10V459.91H324.50V456.81H324.90V457.70H325.30V457.72H325.70V455.71H326.10V456.12H326.50V453.49H326.90V455.10H327.30V453.80H327.70V453.04H328.10V450.64H328.50V453.45H328.90V454.88H329.30V455.45H329.70V458.27H330.10V453.85H330.50V455.60H330.90V454.78H331.30V452.74H331.70V453.04H332.10V455.20H332.50V455.22H332.90V452.42H333.30V452.76H333.70V454.61H334.10V453.10H334.50V457.22H334.90V457.73H335.30V455.41H335.70V455.32H336.10V454.76H336.50V455.60H336.90V453.88H337.30V452.47H337.70V453.01H338.10V454.25H338.50V456.94H338.90V456.87H339.30V457.68H339.70V455.15H340.10V455.67H340.50V455.68H340.90V458.25H341.30V456.69H341.70V456.87H342.10V456.17H342.50V458.52H342.90V458.18H343.30V456.69H343.70V457.58H344.10V458.02H344.50V457.76H344.90V458.87H345.30V460.92H345.70V457.97H346.10V460.85H346.50V462.00H346.90V460.21H347.30V462.00H347.70V459.56H348.10V458.37H348.50V457.74H348.90V457.79H349.30V460.19H349.70V459.34H350.10V459.03H350.50V461.98H350.90V462.31H351.30V462.59H351.70V459.66H352.10V461.62H352.50V460.29H352.90V460.96H353.30V461.02H353.70V463.20H354.10V462.63H354.50V463.03H354.90V463.26H355.30V461.49H355.70V462.75H356.10V461.86H356.50V461.58H356.90V461.63H357.30V464.07H357.70V462.91H358.10V461.85H358.50V461.56H358.90V461.06H359.30V461.73H359.70V463.26H360.10V461.25H360.50V460.94H360.90V459.97H361.30V462.62H361.70V463.43H362.10V463.10H362.50V463.30H362.90V460.98H363.30V463.70H363.70V462.46H364.10V463.11H364.50V462.50H364.90V461.98H365.30V460.68H365.70V460.89H366.10V461.65H366.50V461.85H366.90V463.56H367.30V460.99H367.70V461.60H368.10V461.39H368.50V463.18H368.90V463.16H369.30V460.63H369.70V464.17H370.10V462.27H370.50V461.70H370.90V461.90H371.30V461.71H371.70V461.24H372.10V458.97H372.50V460.91H372.90V461.67H373.30V463.05H373.70V461.76H374.10V460.90H374.50V463.18H374.90V462.92H375.30V462.49H375.70V461.87H376.10V460.60H376.50V461.24H376.90V461.02H377.30V461.38H377.70V461.88H378.10V462.39H378.50V460.43H378.90V459.64H379.30V459.83H379.70V459.48H380.10V460.97H380.50V463.36H380.90V460.49H381.30V462.99H381.70V461.92H382.10V460.52H382.50V461.17H382.90V461.67H383.30V463.55H383.70V458.82H384.10V459.99H384.50V462.21H384.90V455.58H385.30V457.75H385.70V456.74H386.10V457.28H386.50V458.89H386.90V458.55H387.30V457.86H387.70V453.38H388.10V456.87H388.50V457.44H388.90V458.17H389.30V455.47H389.70V457.58H390.10V459.10H390.50V457.25H390.90V458.38H391.30V454.62H391.70V454.65H392.10V456.33H392.50V456.12H392.90V457.76H393.30V454.43H393.70V455.66H394.10V455.83H394.50V450.06H394.90V451.55H395.30V450.65H395.70V454.91H396.10V452.46H396.50V453.87H396.90V452.43H397.30V453.05H397.70V449.51H398.10V448.16H398.50V447.30H398.90V451.31H399.30V450.33H399.70V450.73H400.10V445.83H400.50V451.95H400.90V451.34H401.30V452.87H401.70V448.33H402.10V446.13H402.50V440.50H402.90V440.50H403.30V437.51H403.70V441.48H404.10V443.69H404.50V443.71H404.90V445.47H405.30V444.81H405.70V446.41H406.10V449.21H406.50V446.75H406.90V449.01H407.30V446.26H407.70V445.50H408.10V444.06H408.50V444.96H408.90V446.14H409.30V444.91H409.70V451.29H410.10V449.25H410.50V444.83H410.90V446.14H411.30V447.04H411.70V448.07H412.10V445.66H412.50V447.51H412.90V451.55H413.30V451.84H413.70V449.81H414.10V449.74H414.50V449.77H414.90V447.62H415.30V446.51H415.70V449.03H416.10V449.91H416.50V451.39H416.90V450.14H417.30V446.50H417.70V444.92H418.10V443.86H418.50V446.09H418.90V446.21H419.30V448.48H419.70V449.90H420.10V452.29H420.50V451.23H420.90V450.81H421.30V450.83H421.70V450.19H422.10V452.01H422.50V454.75H422.90V452.37H423.30V454.06H423.70V455.20H424.10V456.44H424.50V454.60H424.90V455.76H425.30V456.76H425.70V455.10H426.10V458.60H426.50V459.08H426.90V456.84H427.30V454.84H427.70V456.68H428.10V456.65H428.50V456.36H428.90V457.93H429.30V458.19H429.70V458.65H430.10V458.88H430.50V459.16H430.90V459.27H431.30V459.65H431.70V461.42H432.10V461.53H432.50V459.48H432.90V463.07H433.30V462.93H433.70V463.64H434.10V464.59H434.50V463.22H434.90V464.30H435.30V463.84H435.70V464.99H436.10V462.76H436.50V465.91H436.90V464.79H437.30V464.74H437.70V466.02H438.10V466.02H438.50V465.83H438.90V465.62H439.30V465.66H439.70V466.66H440.10V466.94H440.50V466.67H440.90V468.22H441.30V468.44H441.70V468.74H442.10V468.90H442.50V468.63H442.90V468.90H443.30V468.62H443.70V468.90H444.10V468.39H444.50V468.79H444.90V468.13H445.30V468.47H445.70V468.47H446.10V468.75H446.50V468.90H446.90V468.90H447.30" fill="none" stroke="#f20000" stroke-width="2.0" stroke-linejoin="miter"/>
<line x1="281.30" y1="468.50" x2="448.30" y2="468.50" stroke="#b41a1e" stroke-width="1.7"/>
<line x1="281.30" y1="470.00" x2="448.30" y2="470.00" stroke="#3a0000" stroke-width="1.3"/>
<text x="563.1" y="306.1" font-size="27.6" stroke="#000" stroke-width="0.65" font-family='"Liberation Sans", sans-serif'>T5</text>
<rect x="495.30" y="322.20" width="168.00" height="147.80" fill="none" stroke="#000" stroke-width="1.5"/>
<line x1="489.30" y1="468.40" x2="495.30" y2="468.40" stroke="#111" stroke-width="1.3"/>
<text transform="translate(487.40,471.40) scale(0.86,1)" font-size="12.3" text-anchor="end" fill="#111" stroke="#111" stroke-width="0.25" font-family='"Liberation Sans", sans-serif'>0</text>
<line x1="489.30" y1="441.85" x2="495.30" y2="441.85" stroke="#111" stroke-width="1.3"/>
<text transform="translate(487.40,444.85) scale(0.86,1)" font-size="12.3" text-anchor="end" fill="#111" stroke="#111" stroke-width="0.25" font-family='"Liberation Sans", sans-serif'>9</text>
<line x1="489.30" y1="415.30" x2="495.30" y2="415.30" stroke="#111" stroke-width="1.3"/>
<text transform="translate(487.40,418.30) scale(0.86,1)" font-size="12.3" text-anchor="end" fill="#111" stroke="#111" stroke-width="0.25" font-family='"Liberation Sans", sans-serif'>18</text>
<line x1="489.30" y1="388.75" x2="495.30" y2="388.75" stroke="#111" stroke-width="1.3"/>
<text transform="translate(487.40,391.75) scale(0.86,1)" font-size="12.3" text-anchor="end" fill="#111" stroke="#111" stroke-width="0.25" font-family='"Liberation Sans", sans-serif'>27</text>
<line x1="489.30" y1="362.20" x2="495.30" y2="362.20" stroke="#111" stroke-width="1.3"/>
<text transform="translate(487.40,365.20) scale(0.86,1)" font-size="12.3" text-anchor="end" fill="#111" stroke="#111" stroke-width="0.25" font-family='"Liberation Sans", sans-serif'>36</text>
<line x1="489.30" y1="335.65" x2="495.30" y2="335.65" stroke="#111" stroke-width="1.3"/>
<text transform="translate(487.40,338.65) scale(0.86,1)" font-size="12.3" text-anchor="end" fill="#111" stroke="#111" stroke-width="0.25" font-family='"Liberation Sans", sans-serif'>45</text>
<line x1="495.60" y1="470.00" x2="495.60" y2="475.20" stroke="#111" stroke-width="1.3"/>
<line x1="508.09" y1="470.00" x2="508.09" y2="473.20" stroke="#111" stroke-width="1.2"/>
<line x1="515.40" y1="470.00" x2="515.40" y2="473.20" stroke="#111" stroke-width="1.2"/>
<line x1="520.59" y1="470.00" x2="520.59" y2="473.20" stroke="#111" stroke-width="1.2"/>
<line x1="524.61" y1="470.00" x2="524.61" y2="473.20" stroke="#111" stroke-width="1.2"/>
<line x1="527.89" y1="470.00" x2="527.89" y2="473.20" stroke="#111" stroke-width="1.2"/>
<line x1="530.67" y1="470.00" x2="530.67" y2="473.20" stroke="#111" stroke-width="1.2"/>
<line x1="533.08" y1="470.00" x2="533.08" y2="473.20" stroke="#111" stroke-width="1.2"/>
<line x1="535.20" y1="470.00" x2="535.20" y2="473.20" stroke="#111" stroke-width="1.2"/>
<text x="494.30" y="486.40" font-size="12.2" text-anchor="end" fill="#111" stroke="#111" stroke-width="0.25" font-family='"Liberation Serif", serif'>10</text>
<text x="496.90" y="483.20" font-size="8.6" fill="#111" stroke="#111" stroke-width="0.2" font-family='"Liberation Serif", serif'>0</text>
<line x1="537.10" y1="470.00" x2="537.10" y2="475.20" stroke="#111" stroke-width="1.3"/>
<line x1="549.59" y1="470.00" x2="549.59" y2="473.20" stroke="#111" stroke-width="1.2"/>
<line x1="556.90" y1="470.00" x2="556.90" y2="473.20" stroke="#111" stroke-width="1.2"/>
<line x1="562.09" y1="470.00" x2="562.09" y2="473.20" stroke="#111" stroke-width="1.2"/>
<line x1="566.11" y1="470.00" x2="566.11" y2="473.20" stroke="#111" stroke-width="1.2"/>
<line x1="569.39" y1="470.00" x2="569.39" y2="473.20" stroke="#111" stroke-width="1.2"/>
<line x1="572.17" y1="470.00" x2="572.17" y2="473.20" stroke="#111" stroke-width="1.2"/>
<line x1="574.58" y1="470.00" x2="574.58" y2="473.20" stroke="#111" stroke-width="1.2"/>
<line x1="576.70" y1="470.00" x2="576.70" y2="473.20" stroke="#111" stroke-width="1.2"/>
<text x="535.80" y="486.40" font-size="12.2" text-anchor="end" fill="#111" stroke="#111" stroke-width="0.25" font-family='"Liberation Serif", serif'>10</text>
<text x="538.40" y="483.20" font-size="8.6" fill="#111" stroke="#111" stroke-width="0.2" font-family='"Liberation Serif", serif'>1</text>
<line x1="578.60" y1="470.00" x2="578.60" y2="475.20" stroke="#111" stroke-width="1.3"/>
<line x1="591.09" y1="470.00" x2="591.09" y2="473.20" stroke="#111" stroke-width="1.2"/>
<line x1="598.40" y1="470.00" x2="598.40" y2="473.20" stroke="#111" stroke-width="1.2"/>
<line x1="603.59" y1="470.00" x2="603.59" y2="473.20" stroke="#111" stroke-width="1.2"/>
<line x1="607.61" y1="470.00" x2="607.61" y2="473.20" stroke="#111" stroke-width="1.2"/>
<line x1="610.89" y1="470.00" x2="610.89" y2="473.20" stroke="#111" stroke-width="1.2"/>
<line x1="613.67" y1="470.00" x2="613.67" y2="473.20" stroke="#111" stroke-width="1.2"/>
<line x1="616.08" y1="470.00" x2="616.08" y2="473.20" stroke="#111" stroke-width="1.2"/>
<line x1="618.20" y1="470.00" x2="618.20" y2="473.20" stroke="#111" stroke-width="1.2"/>
<text x="577.30" y="486.40" font-size="12.2" text-anchor="end" fill="#111" stroke="#111" stroke-width="0.25" font-family='"Liberation Serif", serif'>10</text>
<text x="579.90" y="483.20" font-size="8.6" fill="#111" stroke="#111" stroke-width="0.2" font-family='"Liberation Serif", serif'>2</text>
<line x1="620.10" y1="470.00" x2="620.10" y2="475.20" stroke="#111" stroke-width="1.3"/>
<line x1="632.59" y1="470.00" x2="632.59" y2="473.20" stroke="#111" stroke-width="1.2"/>
<line x1="639.90" y1="470.00" x2="639.90" y2="473.20" stroke="#111" stroke-width="1.2"/>
<line x1="645.09" y1="470.00" x2="645.09" y2="473.20" stroke="#111" stroke-width="1.2"/>
<line x1="649.11" y1="470.00" x2="649.11" y2="473.20" stroke="#111" stroke-width="1.2"/>
<line x1="652.39" y1="470.00" x2="652.39" y2="473.20" stroke="#111" stroke-width="1.2"/>
<line x1="655.17" y1="470.00" x2="655.17" y2="473.20" stroke="#111" stroke-width="1.2"/>
<line x1="657.58" y1="470.00" x2="657.58" y2="473.20" stroke="#111" stroke-width="1.2"/>
<line x1="659.70" y1="470.00" x2="659.70" y2="473.20" stroke="#111" stroke-width="1.2"/>
<text x="618.80" y="486.40" font-size="12.2" text-anchor="end" fill="#111" stroke="#111" stroke-width="0.25" font-family='"Liberation Serif", serif'>10</text>
<text x="621.40" y="483.20" font-size="8.6" fill="#111" stroke="#111" stroke-width="0.2" font-family='"Liberation Serif", serif'>3</text>
<line x1="661.60" y1="470.00" x2="661.60" y2="475.20" stroke="#111" stroke-width="1.3"/>
<text x="660.30" y="486.40" font-size="12.2" text-anchor="end" fill="#111" stroke="#111" stroke-width="0.25" font-family='"Liberation Serif", serif'>10</text>
<text x="662.90" y="483.20" font-size="8.6" fill="#111" stroke="#111" stroke-width="0.2" font-family='"Liberation Serif", serif'>4</text>
<path d="M497.50 466.53H497.90V466.16H498.30V467.08H498.70V466.04H499.10V467.81H499.50V467.58H499.90V467.26H500.30V466.03H500.70V466.62H501.10V465.10H501.50V465.79H501.90V465.08H502.30V466.39H502.70V466.71H503.10V465.22H503.50V466.99H503.90V466.31H504.30V466.74H504.70V466.50H505.10V465.08H505.50V465.22H505.90V465.72H506.30V467.64H506.70V467.28H507.10V467.34H507.50V466.48H507.90V466.64H508.30V466.11H508.70V467.39H509.10V465.73H509.50V465.74H509.90V465.35H510.30V465.43H510.70V465.69H511.10V466.19H511.50V465.78H511.90V465.74H512.30V465.85H512.70V465.60H513.10V466.56H513.50V464.64H513.90V464.73H514.30V463.51H514.70V462.95H515.10V465.10H515.50V465.62H515.90V465.55H516.30V465.79H516.70V466.12H517.10V465.37H517.50V465.90H517.90V465.29H518.30V464.92H518.70V466.07H519.10V466.85H519.50V465.34H519.90V463.96H520.30V464.27H520.70V465.29H521.10V463.94H521.50V466.37H521.90V465.80H522.30V463.97H522.70V465.48H523.10V464.72H523.50V465.66H523.90V465.49H524.30V466.11H524.70V465.21H525.10V464.47H525.50V466.02H525.90V467.34H526.30V465.86H526.70V464.86H527.10V466.27H527.50V466.37H527.90V465.56H528.30V465.84H528.70V466.30H529.10V467.28H529.50V467.30H529.90V468.24H530.30V467.73H530.70V466.67H531.10V467.38H531.50V465.27H531.90V465.71H532.30V465.99H532.70V465.81H533.10V465.83H533.50V466.58H533.90V465.93H534.30V465.59H534.70V466.63H535.10V466.87H535.50V467.25H535.90V466.13H536.30V466.16H536.70V463.96H537.10V465.45H537.50V465.86H537.90V464.99H538.30V465.33H538.70V465.30H539.10V464.78H539.50V464.72H539.90V463.20H540.30V465.11H540.70V464.96H541.10V465.06H541.50V466.16H541.90V465.73H542.30V465.83H542.70V466.06H543.10V466.70H543.50V466.44H543.90V465.45H544.30V466.49H544.70V465.32H545.10V465.91H545.50V464.97H545.90V465.65H546.30V466.29H546.70V466.04H547.10V465.46H547.50V464.69H547.90V466.22H548.30V465.79H548.70V466.04H549.10V464.94H549.50V464.88H549.90V465.49H550.30V465.67H550.70V465.83H551.10V464.52H551.50V464.42H551.90V462.55H552.30V464.40H552.70V466.43H553.10V463.33H553.50V462.68H553.90V463.19H554.30V461.85H554.70V459.49H555.10V457.68H555.50V453.75H555.90V455.30H556.30V458.34H556.70V458.83H557.10V461.24H557.50V461.49H557.90V464.32H558.30V463.18H558.70V463.80H559.10V465.78H559.50V464.44H559.90V465.82H560.30V466.45H560.70V466.91H561.10V466.15H561.50V466.31H561.90V465.04H562.30V465.02H562.70V463.57H563.10V464.53H563.50V463.05H563.90V464.72H564.30V465.35H564.70V465.27H565.10V465.03H565.50V463.97H565.90V464.75H566.30V465.50H566.70V466.57H567.10V464.56H567.50V464.89H567.90V465.31H568.30V465.39H568.70V463.66H569.10V465.24H569.50V464.92H569.90V464.68H570.30V466.24H570.70V465.57H571.10V466.63H571.50V465.30H571.90V465.08H572.30V465.33H572.70V463.78H573.10V464.25H573.50V466.46H573.90V463.49H574.30V465.61H574.70V465.38H575.10V465.53H575.50V464.67H575.90V466.80H576.30V464.79H576.70V464.91H577.10V464.71H577.50V464.52H577.90V464.03H578.30V465.50H578.70V463.15H579.10V462.68H579.50V464.48H579.90V462.54H580.30V464.02H580.70V463.28H581.10V463.78H581.50V464.13H581.90V464.34H582.30V465.27H582.70V462.71H583.10V462.73H583.50V463.93H583.90V463.45H584.30V463.49H584.70V463.60H585.10V461.70H585.50V463.30H585.90V463.12H586.30V465.07H586.70V464.97H587.10V463.73H587.50V464.48H587.90V462.74H588.30V463.42H588.70V464.33H589.10V464.23H589.50V465.98H589.90V464.42H590.30V464.04H590.70V462.87H591.10V464.37H591.50V463.45H591.90V464.36H592.30V464.35H592.70V463.47H593.10V464.86H593.50V464.34H593.90V463.37H594.30V463.74H594.70V463.54H595.10V461.20H595.50V463.01H595.90V462.76H596.30V461.53H596.70V464.45H597.10V463.79H597.50V464.18H597.90V462.59H598.30V461.04H598.70V461.30H599.10V461.41H599.50V461.15H599.90V462.78H600.30V461.84H600.70V458.92H601.10V460.41H601.50V459.94H601.90V458.93H602.30V461.58H602.70V460.76H603.10V458.01H603.50V458.27H603.90V461.06H604.30V461.64H604.70V462.16H605.10V463.08H605.50V463.29H605.90V463.14H606.30V463.78H606.70V463.23H607.10V462.88H607.50V464.79H607.90V463.19H608.30V463.37H608.70V462.96H609.10V462.82H609.50V462.69H609.90V461.46H610.30V461.89H610.70V460.85H611.10V462.08H611.50V463.38H611.90V463.22H612.30V463.54H612.70V462.82H613.10V462.31H613.50V462.18H613.90V464.11H614.30V463.20H614.70V462.63H615.10V462.68H615.50V462.68H615.90V462.32H616.30V462.58H616.70V461.23H617.10V461.64H617.50V462.71H617.90V463.39H618.30V463.77H618.70V463.17H619.10V461.91H619.50V463.15H619.90V462.69H620.30V462.44H620.70V464.30H621.10V463.59H621.50V459.79H621.90V461.73H622.30V460.91H622.70V463.10H623.10V462.34H623.50V461.01H623.90V461.29H624.30V460.43H624.70V462.59H625.10V462.88H625.50V464.40H625.90V463.52H626.30V462.44H626.70V462.87H627.10V464.53H627.50V462.64H627.90V464.57H628.30V466.85H628.70V465.93H629.10V465.53H629.50V465.22H629.90V466.30H630.30V466.16H630.70V463.38H631.10V463.61H631.50V461.89H631.90V462.86H632.30V462.59H632.70V461.04H633.10V462.28H633.50V462.34H633.90V463.22H634.30V462.86H634.70V464.69H635.10V464.96H635.50V465.51H635.90V466.06H636.30V466.50H636.70V465.05H637.10V465.41H637.50V467.07H637.90V467.73H638.30V467.96H638.70V467.08H639.10V467.17H639.50V468.31H639.90V467.98H640.30V467.72H640.70V467.30H641.10V467.57H641.50V468.08H641.90V468.12H642.30V467.92H642.70V468.07H643.10V468.85H643.50V467.88H643.90V468.00H644.30V468.30H644.70V468.40H645.10V467.65H645.50V468.14H645.90V468.43H646.30V468.21H646.70V468.46H647.10V467.63H647.50V467.92H647.90V468.23H648.30V468.31H648.70V468.36H649.10V468.00H649.50V468.38H649.90V469.20H650.30V469.10H650.70V469.01H651.10V468.55H651.50V468.24H651.90V467.54H652.30V468.68H652.70V468.47H653.10V468.58H653.50V468.87H653.90V467.49H654.30V468.26H654.70V468.06H655.10V468.51H655.50V468.67H655.90V468.70H656.30V468.77H656.70V468.66H657.10V469.20H657.50V468.24H657.90V468.41H658.30V468.70H658.70V468.23H659.10V467.80H659.50V468.22H659.90V468.42H660.30V468.18H660.70V468.30H661.10V468.06H661.50V467.88H661.90V469.02H662.30V468.68H662.70V469.08H663.10" fill="none" stroke="#000" stroke-width="2.0" stroke-linejoin="miter"/>
<path d="M497.50 467.02H497.90V466.50H498.30V466.34H498.70V465.92H499.10V466.38H499.50V467.31H499.90V467.47H500.30V467.07H500.70V467.72H501.10V467.37H501.50V467.20H501.90V467.16H502.30V465.83H502.70V465.18H503.10V466.79H503.50V465.48H503.90V465.74H504.30V464.37H504.70V464.82H505.10V464.33H505.50V463.66H505.90V464.68H506.30V464.05H506.70V466.18H507.10V466.11H507.50V465.53H507.90V463.35H508.30V464.50H508.70V466.77H509.10V465.01H509.50V463.17H509.90V463.79H510.30V464.44H510.70V463.30H511.10V464.72H511.50V464.68H511.90V465.15H512.30V464.85H512.70V463.59H513.10V465.40H513.50V463.74H513.90V462.68H514.30V464.39H514.70V463.16H515.10V461.54H515.50V462.41H515.90V460.68H516.30V459.93H516.70V463.10H517.10V461.84H517.50V458.95H517.90V460.71H518.30V461.22H518.70V461.17H519.10V463.55H519.50V461.22H519.90V459.40H520.30V461.49H520.70V462.45H521.10V459.20H521.50V459.53H521.90V458.79H522.30V458.12H522.70V457.87H523.10V458.24H523.50V458.86H523.90V459.95H524.30V458.28H524.70V460.21H525.10V460.17H525.50V460.98H525.90V461.81H526.30V460.93H526.70V462.22H527.10V461.80H527.50V461.49H527.90V461.60H528.30V462.69H528.70V462.73H529.10V462.91H529.50V460.74H529.90V463.07H530.30V461.36H530.70V462.31H531.10V464.60H531.50V465.11H531.90V467.24H532.30V465.69H532.70V466.24H533.10V463.49H533.50V463.10H533.90V462.62H534.30V462.88H534.70V462.05H535.10V461.50H535.50V462.47H535.90V462.23H536.30V462.83H536.70V462.81H537.10V464.71H537.50V462.34H537.90V463.66H538.30V463.29H538.70V465.73H539.10V465.24H539.50V465.10H539.90V464.40H540.30V462.47H540.70V464.20H541.10V464.19H541.50V464.46H541.90V463.60H542.30V463.97H542.70V465.25H543.10V465.40H543.50V461.87H543.90V464.10H544.30V463.10H544.70V464.92H545.10V465.65H545.50V465.46H545.90V464.33H546.30V466.79H546.70V464.52H547.10V465.18H547.50V463.63H547.90V465.75H548.30V466.76H548.70V465.42H549.10V465.77H549.50V466.42H549.90V464.31H550.30V464.74H550.70V464.77H551.10V463.39H551.50V463.56H551.90V462.91H552.30V462.70H552.70V463.98H553.10V463.92H553.50V462.95H553.90V462.68H554.30V462.88H554.70V461.88H555.10V465.02H555.50V463.42H555.90V462.72H556.30V465.39H556.70V465.36H557.10V464.41H557.50V462.19H557.90V464.73H558.30V462.89H558.70V464.62H559.10V464.16H559.50V463.34H559.90V464.67H560.30V463.09H560.70V464.11H561.10V463.55H561.50V464.03H561.90V462.60H562.30V464.25H562.70V465.33H563.10V462.40H563.50V462.95H563.90V464.36H564.30V464.54H564.70V464.43H565.10V465.68H565.50V464.21H565.90V463.89H566.30V464.03H566.70V463.70H567.10V463.69H567.50V464.11H567.90V463.78H568.30V463.32H568.70V463.78H569.10V462.99H569.50V463.91H569.90V464.42H570.30V463.55H570.70V463.80H571.10V462.73H571.50V462.86H571.90V464.87H572.30V465.12H572.70V463.67H573.10V463.57H573.50V462.44H573.90V463.77H574.30V463.44H574.70V463.53H575.10V466.30H575.50V465.62H575.90V463.31H576.30V463.53H576.70V462.96H577.10V463.60H577.50V464.20H577.90V462.07H578.30V462.56H578.70V463.78H579.10V462.54H579.50V463.76H579.90V464.93H580.30V465.56H580.70V464.31H581.10V465.35H581.50V463.67H581.90V464.35H582.30V464.13H582.70V464.52H583.10V463.65H583.50V463.38H583.90V462.03H584.30V463.38H584.70V461.34H585.10V463.41H585.50V462.59H585.90V463.00H586.30V462.04H586.70V461.48H587.10V463.78H587.50V460.72H587.90V461.75H588.30V460.87H588.70V461.71H589.10V460.63H589.50V461.96H589.90V461.77H590.30V462.23H590.70V460.73H591.10V460.52H591.50V462.06H591.90V461.50H592.30V461.87H592.70V461.26H593.10V461.84H593.50V463.24H593.90V461.47H594.30V460.44H594.70V462.59H595.10V461.78H595.50V463.69H595.90V463.26H596.30V458.95H596.70V458.73H597.10V457.92H597.50V460.97H597.90V457.78H598.30V458.95H598.70V460.42H599.10V458.66H599.50V459.22H599.90V461.14H600.30V457.82H600.70V459.25H601.10V456.82H601.50V456.29H601.90V452.98H602.30V456.06H602.70V456.64H603.10V453.45H603.50V454.94H603.90V458.61H604.30V459.97H604.70V457.50H605.10V458.44H605.50V457.76H605.90V457.86H606.30V455.15H606.70V458.40H607.10V453.95H607.50V455.71H607.90V456.25H608.30V457.91H608.70V456.11H609.10V455.11H609.50V458.98H609.90V458.64H610.30V459.05H610.70V457.37H611.10V457.54H611.50V458.37H611.90V457.72H612.30V455.91H612.70V454.89H613.10V454.76H613.50V457.42H613.90V457.10H614.30V454.89H614.70V456.60H615.10V455.04H615.50V456.22H615.90V456.32H616.30V456.12H616.70V454.52H617.10V453.20H617.50V453.08H617.90V454.04H618.30V453.91H618.70V454.28H619.10V454.70H619.50V454.06H619.90V454.56H620.30V456.24H620.70V459.69H621.10V458.95H621.50V458.61H621.90V460.79H622.30V460.19H622.70V458.92H623.10V458.87H623.50V459.38H623.90V459.56H624.30V459.42H624.70V459.77H625.10V460.45H625.50V461.30H625.90V458.19H626.30V461.61H626.70V462.49H627.10V461.14H627.50V463.83H627.90V464.28H628.30V464.18H628.70V464.60H629.10V463.73H629.50V464.46H629.90V463.66H630.30V465.75H630.70V466.42H631.10V465.35H631.50V467.46H631.90V467.66H632.30V467.50H632.70V468.45H633.10V468.77H633.50V468.51H633.90V467.44H634.30V468.22H634.70V468.03H635.10V468.27H635.50V467.02H635.90V467.75H636.30V467.42H636.70V467.01H637.10V467.42H637.50V468.10H637.90V467.66H638.30V468.03H638.70V468.40H639.10V468.71H639.50V468.47H639.90V468.10H640.30V469.00H640.70V468.10H641.10V467.97H641.50V468.23H641.90V468.73H642.30V469.20H642.70V469.04H643.10V469.20H643.50V469.17H643.90V469.20H644.30V468.85H644.70V468.68H645.10V468.61H645.50V468.28H645.90V468.64H646.30V468.30H646.70V468.96H647.10V467.81H647.50V468.76H647.90V468.57H648.30V468.64H648.70V468.11H649.10V468.03H649.50V468.27H649.90V467.96H650.30V467.55H650.70V468.30H651.10V468.89H651.50V468.80H651.90V467.77H652.30V467.57H652.70V467.59H653.10V467.62H653.50V468.48H653.90V468.54H654.30V467.82H654.70V468.66H655.10V468.22H655.50V468.72H655.90V469.06H656.30V468.80H656.70V468.87H657.10V468.41H657.50V468.82H657.90V469.06H658.30V468.88H658.70V469.20H659.10V468.54H659.50V468.71H659.90V468.85H660.30V469.20H660.70V468.62H661.10V468.75H661.50V469.20H661.90V469.20H662.30V468.50H662.70V468.17H663.10" fill="none" stroke="#f20000" stroke-width="2.0" stroke-linejoin="miter"/>
<line x1="496.30" y1="468.60" x2="663.30" y2="468.60" stroke="#b41a1e" stroke-width="1.7"/>
<line x1="496.30" y1="470.10" x2="663.30" y2="470.10" stroke="#3a0000" stroke-width="1.3"/>
<rect x="66.0" y="74" width="1.2" height="147" fill="#6a0000"/>
<rect x="67.2" y="74" width="1.7" height="147" fill="#b51d22"/>
<rect x="279.6" y="74" width="1.2" height="147" fill="#6a0000"/>
<rect x="280.8" y="74" width="1.7" height="147" fill="#b51d22"/>
<rect x="65.2" y="338" width="2.5" height="132" fill="#000"/>
<rect x="65.4" y="428" width="2.3" height="42" fill="#d40000"/>
<rect x="280.2" y="322" width="2.3" height="148" fill="#000"/>
<rect x="280.4" y="376" width="2.1" height="22" fill="#7a0000"/>
<rect x="280.4" y="398" width="2.1" height="72" fill="#e00000"/>
<rect x="495.0" y="389" width="1.5" height="80" fill="#000"/>
<rect x="495.0" y="408.6" width="2.8" height="60" fill="#000"/>
<rect x="495.2" y="441" width="2.6" height="8" fill="#800000"/>
<rect x="495.2" y="448.5" width="2.6" height="21" fill="#e00000"/>
<line x1="169" y1="141.1" x2="234.5" y2="141.1" stroke="#333" stroke-width="1.6"/>
<line x1="169" y1="135.1" x2="169" y2="146.7" stroke="#333" stroke-width="1.8"/>
<line x1="382.4" y1="140.7" x2="448.0" y2="140.7" stroke="#333" stroke-width="1.6"/>
<line x1="382.4" y1="134.7" x2="382.4" y2="146.29999999999998" stroke="#333" stroke-width="1.8"/>
<line x1="168.0" y1="390.1" x2="234.0" y2="390.1" stroke="#333" stroke-width="1.6"/>
<line x1="168.0" y1="384.1" x2="168.0" y2="395.70000000000005" stroke="#333" stroke-width="1.8"/>
<line x1="382.3" y1="389.7" x2="448.3" y2="389.7" stroke="#333" stroke-width="1.6"/>
<line x1="382.3" y1="383.7" x2="382.3" y2="395.3" stroke="#333" stroke-width="1.8"/>
<line x1="597.5" y1="389.9" x2="663.3" y2="389.9" stroke="#333" stroke-width="1.6"/>
<line x1="597.5" y1="383.9" x2="597.5" y2="395.5" stroke="#333" stroke-width="1.8"/>
<text x="3.2" y="26.2" font-size="33.5" font-weight="bold" font-family='"Liberation Sans", sans-serif'>A</text>
<text transform="translate(26.7,154.8) rotate(-90) scale(0.955,1)" font-size="27.5" font-weight="bold" text-anchor="middle" font-family='"Liberation Sans", sans-serif'>Counts</text>
<text transform="translate(26.7,404.2) rotate(-90) scale(0.955,1)" font-size="27.5" font-weight="bold" text-anchor="middle" font-family='"Liberation Sans", sans-serif'>Counts</text>
<line x1="488" y1="132.6" x2="533" y2="132.6" stroke="#000" stroke-width="3.2"/>
<line x1="488" y1="164.4" x2="533" y2="164.4" stroke="#dd0d12" stroke-width="3.2"/>
<text transform="translate(541.3,138.6) scale(1.017,1)" font-size="26.1" font-weight="bold" font-family='"Liberation Sans", sans-serif'>Control</text>
<text x="542.3" y="172.8" font-size="25.8" font-weight="bold" font-family='"Liberation Sans", sans-serif'>FGF2</text>
<path d="M616.46 154.33 L620.00 154.33 L620.00 172.80 L616.26 172.80 L616.26 159.87 Q613.81 161.42 611.49 162.07 L611.49 158.71 Q614.32 157.42 616.46 154.33 Z" fill="#000"/>
<line x1="62.3" y1="523" x2="660" y2="523" stroke="#000" stroke-width="3.4"/>
<path d="M658 516.6 L671 523 L658 529.8 Z" fill="#000"/>
<text x="62.6" y="548.6" font-size="26.7" font-weight="bold" font-family='"Liberation Sans", sans-serif'>Annexin V</text>
<text x="4.2" y="630.8" font-size="30.5" font-weight="bold" font-family='"Liberation Sans", sans-serif'>B</text>
<line x1="119" y1="667.7" x2="119" y2="955.5" stroke="#000" stroke-width="3.4"/>
<line x1="117.3" y1="953.8" x2="545" y2="953.8" stroke="#000" stroke-width="3.4"/>
<line x1="107.4" y1="953.8" x2="119" y2="953.8" stroke="#000" stroke-width="3.4"/>
<text x="103.8" y="963.2" font-size="26.6" font-weight="bold" text-anchor="end" font-family='"Liberation Sans", sans-serif'>0</text>
<line x1="107.4" y1="882.7" x2="119" y2="882.7" stroke="#000" stroke-width="3.4"/>
<text x="103.8" y="892.1" font-size="26.6" font-weight="bold" text-anchor="end" font-family='"Liberation Sans", sans-serif'>20</text>
<line x1="107.4" y1="811.6" x2="119" y2="811.6" stroke="#000" stroke-width="3.4"/>
<text x="103.8" y="821.0" font-size="26.6" font-weight="bold" text-anchor="end" font-family='"Liberation Sans", sans-serif'>40</text>
<line x1="107.4" y1="740.5" x2="119" y2="740.5" stroke="#000" stroke-width="3.4"/>
<text x="103.8" y="749.9" font-size="26.6" font-weight="bold" text-anchor="end" font-family='"Liberation Sans", sans-serif'>60</text>
<line x1="107.4" y1="669.4" x2="119" y2="669.4" stroke="#000" stroke-width="3.4"/>
<text x="103.8" y="678.8" font-size="26.6" font-weight="bold" text-anchor="end" font-family='"Liberation Sans", sans-serif'>80</text>
<text x="145.6" y="990.6" font-size="25.4" font-weight="bold" font-family='"Liberation Sans", sans-serif'>T</text>
<path d="M168.52 972.41 L172.00 972.41 L172.00 990.60 L168.32 990.60 L168.32 977.87 Q165.90 979.40 163.62 980.03 L163.62 976.73 Q166.41 975.46 168.52 972.41 Z" fill="#000"/>
<text x="231.5" y="990.6" font-size="25.4" font-weight="bold" font-family='"Liberation Sans", sans-serif'>T2</text>
<text x="317.4" y="990.6" font-size="25.4" font-weight="bold" font-family='"Liberation Sans", sans-serif'>T3</text>
<text x="403.2" y="990.6" font-size="25.4" font-weight="bold" font-family='"Liberation Sans", sans-serif'>T4</text>
<text x="489.2" y="990.6" font-size="25.4" font-weight="bold" font-family='"Liberation Sans", sans-serif'>T5</text>
<text transform="translate(54.6,937.6) rotate(-90)" font-size="28" font-weight="bold" font-family='"Liberation Sans", sans-serif'>Annexin<tspan font-size="18" dy="-12">+</tspan><tspan dy="12"> cells (%)</tspan></text>
<circle cx="384.9" cy="639.6" r="5.3" fill="#000"/>
<path d="M384.8 663.6 L390.3 671.6 L379.3 671.6 Z" fill="none" stroke="#000" stroke-width="2.6" stroke-linejoin="round"/>
<text transform="translate(402.8,645.8) scale(1.05,1)" font-size="25.5" font-weight="bold" font-family='"Liberation Sans", sans-serif'>Control</text>
<text x="402.6" y="679.6" font-size="25.6" font-weight="bold" font-family='"Liberation Sans", sans-serif'>FGF2</text>
<path d="M477.39 661.27 L480.90 661.27 L480.90 679.60 L477.19 679.60 L477.19 666.77 Q474.76 668.31 472.45 668.95 L472.45 665.62 Q475.27 664.34 477.39 661.27 Z" fill="#000"/>
<path d="M315.5 727 V719.5 H348.2 V727" fill="none" stroke="#000" stroke-width="2.1"/>
<text x="331.2" y="722.3" font-size="27.5" stroke="#000" stroke-width="0.45" text-anchor="middle" font-family='"Liberation Sans", sans-serif'>**</text>
<circle cx="145.5" cy="905.0" r="5.6" fill="#000"/>
<circle cx="148.0" cy="911.0" r="5.6" fill="#000"/>
<circle cx="144.0" cy="917.0" r="5.6" fill="#000"/>
<circle cx="137.0" cy="920.0" r="5.6" fill="#000"/>
<circle cx="141.0" cy="923.0" r="5.6" fill="#000"/>
<circle cx="152.0" cy="920.0" r="5.6" fill="#000"/>
<circle cx="155.0" cy="923.5" r="5.6" fill="#000"/>
<circle cx="147.0" cy="925.5" r="5.6" fill="#000"/>
<circle cx="142.0" cy="927.0" r="5.6" fill="#000"/>
<circle cx="150.0" cy="927.0" r="5.6" fill="#000"/>
<circle cx="146.0" cy="919.0" r="5.6" fill="#000"/>
<circle cx="139.0" cy="916.0" r="5.6" fill="#000"/>
<line x1="177.0" y1="903.0" x2="177.0" y2="927.8" stroke="#000" stroke-width="3.2"/>
<line x1="167.0" y1="915.4" x2="187.0" y2="915.4" stroke="#000" stroke-width="3.2"/>
<line x1="170.5" y1="903.0" x2="183.5" y2="903.0" stroke="#000" stroke-width="3.2"/>
<line x1="170.5" y1="927.8" x2="183.5" y2="927.8" stroke="#000" stroke-width="3.2"/>
<path d="M177.5 884.5 L183.1 894.8 L171.9 894.8 Z" fill="none" stroke="#000" stroke-width="3.6" stroke-linejoin="round"/>
<path d="M167.5 903.0 L173.1 913.3 L161.9 913.3 Z" fill="none" stroke="#000" stroke-width="3.6" stroke-linejoin="round"/>
<path d="M174.0 902.0 L179.6 912.3 L168.4 912.3 Z" fill="none" stroke="#000" stroke-width="3.6" stroke-linejoin="round"/>
<path d="M178.0 904.0 L183.6 914.3 L172.4 914.3 Z" fill="none" stroke="#000" stroke-width="3.6" stroke-linejoin="round"/>
<path d="M186.4 904.3 L192.0 914.6 L180.8 914.6 Z" fill="none" stroke="#000" stroke-width="3.6" stroke-linejoin="round"/>
<path d="M168.0 919.5 L173.6 929.8 L162.4 929.8 Z" fill="none" stroke="#000" stroke-width="3.6" stroke-linejoin="round"/>
<path d="M186.4 918.5 L192.0 928.8 L180.8 928.8 Z" fill="none" stroke="#000" stroke-width="3.6" stroke-linejoin="round"/>
<path d="M179.5 927.0 L185.1 937.3 L173.9 937.3 Z" fill="none" stroke="#000" stroke-width="3.6" stroke-linejoin="round"/>
<path d="M174.8 935.5 L180.4 945.8 L169.2 945.8 Z" fill="none" stroke="#000" stroke-width="3.6" stroke-linejoin="round"/>
<path d="M179.0 913.0 L184.6 923.3 L173.4 923.3 Z" fill="none" stroke="#000" stroke-width="3.6" stroke-linejoin="round"/>
<path d="M173.0 913.0 L178.6 923.3 L167.4 923.3 Z" fill="none" stroke="#000" stroke-width="3.6" stroke-linejoin="round"/>
<path d="M176.0 908.0 L181.6 918.3 L170.4 918.3 Z" fill="none" stroke="#000" stroke-width="3.6" stroke-linejoin="round"/>
<path d="M181.0 910.0 L186.6 920.3 L175.4 920.3 Z" fill="none" stroke="#000" stroke-width="3.6" stroke-linejoin="round"/>
<path d="M175.0 917.0 L180.6 927.3 L169.4 927.3 Z" fill="none" stroke="#000" stroke-width="3.6" stroke-linejoin="round"/>
<circle cx="226.0" cy="907.0" r="5.6" fill="#000"/>
<circle cx="235.0" cy="907.0" r="5.6" fill="#000"/>
<circle cx="221.5" cy="913.0" r="5.6" fill="#000"/>
<circle cx="240.0" cy="914.0" r="5.6" fill="#000"/>
<circle cx="230.0" cy="915.0" r="5.6" fill="#000"/>
<circle cx="227.5" cy="920.0" r="5.6" fill="#000"/>
<circle cx="235.0" cy="920.0" r="5.6" fill="#000"/>
<circle cx="230.0" cy="926.0" r="5.6" fill="#000"/>
<circle cx="229.0" cy="932.0" r="5.6" fill="#000"/>
<circle cx="229.0" cy="936.0" r="5.6" fill="#000"/>
<circle cx="233.0" cy="930.0" r="5.6" fill="#000"/>
<circle cx="226.5" cy="927.0" r="5.6" fill="#000"/>
<line x1="263.0" y1="907.2" x2="263.0" y2="932.1" stroke="#000" stroke-width="3.2"/>
<line x1="253.0" y1="919.7" x2="273.0" y2="919.7" stroke="#000" stroke-width="3.2"/>
<line x1="256.5" y1="907.2" x2="269.5" y2="907.2" stroke="#000" stroke-width="3.2"/>
<line x1="256.5" y1="932.1" x2="269.5" y2="932.1" stroke="#000" stroke-width="3.2"/>
<path d="M263.0 893.5 L268.6 903.8 L257.4 903.8 Z" fill="none" stroke="#000" stroke-width="3.6" stroke-linejoin="round"/>
<path d="M256.0 906.0 L261.6 916.3 L250.4 916.3 Z" fill="none" stroke="#000" stroke-width="3.6" stroke-linejoin="round"/>
<path d="M265.0 907.0 L270.6 917.3 L259.4 917.3 Z" fill="none" stroke="#000" stroke-width="3.6" stroke-linejoin="round"/>
<path d="M272.0 907.5 L277.6 917.8 L266.4 917.8 Z" fill="none" stroke="#000" stroke-width="3.6" stroke-linejoin="round"/>
<path d="M258.0 917.0 L263.6 927.3 L252.4 927.3 Z" fill="none" stroke="#000" stroke-width="3.6" stroke-linejoin="round"/>
<path d="M266.0 920.0 L271.6 930.3 L260.4 930.3 Z" fill="none" stroke="#000" stroke-width="3.6" stroke-linejoin="round"/>
<path d="M261.0 924.0 L266.6 934.3 L255.4 934.3 Z" fill="none" stroke="#000" stroke-width="3.6" stroke-linejoin="round"/>
<path d="M256.0 930.0 L261.6 940.3 L250.4 940.3 Z" fill="none" stroke="#000" stroke-width="3.6" stroke-linejoin="round"/>
<path d="M270.0 930.0 L275.6 940.3 L264.4 940.3 Z" fill="none" stroke="#000" stroke-width="3.6" stroke-linejoin="round"/>
<path d="M263.0 933.0 L268.6 943.3 L257.4 943.3 Z" fill="none" stroke="#000" stroke-width="3.6" stroke-linejoin="round"/>
<path d="M261.0 937.5 L266.6 947.8 L255.4 947.8 Z" fill="none" stroke="#000" stroke-width="3.6" stroke-linejoin="round"/>
<path d="M268.0 916.0 L273.6 926.3 L262.4 926.3 Z" fill="none" stroke="#000" stroke-width="3.6" stroke-linejoin="round"/>
<line x1="316.5" y1="857.5" x2="316.5" y2="894.4" stroke="#000" stroke-width="3.2"/>
<line x1="306.2" y1="875.9" x2="326.8" y2="875.9" stroke="#000" stroke-width="3.2"/>
<line x1="310.0" y1="857.5" x2="323.0" y2="857.5" stroke="#000" stroke-width="3.2"/>
<line x1="310.0" y1="894.4" x2="323.0" y2="894.4" stroke="#000" stroke-width="3.2"/>
<circle cx="316.6" cy="821.2" r="5.8" fill="#000"/>
<circle cx="314.6" cy="847.8" r="5.8" fill="#000"/>
<circle cx="319.3" cy="851.9" r="5.8" fill="#000"/>
<circle cx="316.3" cy="857.0" r="5.8" fill="#000"/>
<circle cx="316.3" cy="862.0" r="5.8" fill="#000"/>
<circle cx="316.3" cy="871.5" r="5.8" fill="#000"/>
<circle cx="316.3" cy="879.8" r="5.8" fill="#000"/>
<circle cx="316.3" cy="889.0" r="5.8" fill="#000"/>
<circle cx="308.0" cy="894.0" r="5.8" fill="#000"/>
<circle cx="325.2" cy="892.2" r="5.8" fill="#000"/>
<circle cx="314.0" cy="907.0" r="5.8" fill="#000"/>
<circle cx="319.9" cy="905.2" r="5.8" fill="#000"/>
<line x1="348.7" y1="799.2" x2="348.7" y2="878.8" stroke="#000" stroke-width="3.2"/>
<line x1="338.2" y1="839.0" x2="359.2" y2="839.0" stroke="#000" stroke-width="3.2"/>
<line x1="342.2" y1="799.2" x2="355.2" y2="799.2" stroke="#000" stroke-width="3.2"/>
<line x1="342.2" y1="878.8" x2="355.2" y2="878.8" stroke="#000" stroke-width="3.2"/>
<path d="M348.7 741.3 L354.2 751.6 L343.1 751.6 Z" fill="none" stroke="#000" stroke-width="3.6" stroke-linejoin="round"/>
<path d="M340.0 772.5 L345.6 782.8 L334.4 782.8 Z" fill="none" stroke="#000" stroke-width="3.6" stroke-linejoin="round"/>
<path d="M354.2 778.7 L359.8 789.0 L348.6 789.0 Z" fill="none" stroke="#000" stroke-width="3.6" stroke-linejoin="round"/>
<path d="M348.0 806.0 L353.6 816.3 L342.4 816.3 Z" fill="none" stroke="#000" stroke-width="3.6" stroke-linejoin="round"/>
<path d="M344.8 841.0 L350.4 851.3 L339.2 851.3 Z" fill="none" stroke="#000" stroke-width="3.6" stroke-linejoin="round"/>
<path d="M353.0 846.3 L358.6 856.6 L347.4 856.6 Z" fill="none" stroke="#000" stroke-width="3.6" stroke-linejoin="round"/>
<path d="M340.0 850.5 L345.6 860.8 L334.4 860.8 Z" fill="none" stroke="#000" stroke-width="3.6" stroke-linejoin="round"/>
<path d="M359.0 852.3 L364.6 862.6 L353.4 862.6 Z" fill="none" stroke="#000" stroke-width="3.6" stroke-linejoin="round"/>
<path d="M352.0 854.0 L357.6 864.3 L346.4 864.3 Z" fill="none" stroke="#000" stroke-width="3.6" stroke-linejoin="round"/>
<path d="M346.0 864.0 L351.6 874.3 L340.4 874.3 Z" fill="none" stroke="#000" stroke-width="3.6" stroke-linejoin="round"/>
<path d="M350.7 870.0 L356.2 880.3 L345.1 880.3 Z" fill="none" stroke="#000" stroke-width="3.6" stroke-linejoin="round"/>
<path d="M349.0 878.3 L354.6 888.6 L343.4 888.6 Z" fill="none" stroke="#000" stroke-width="3.6" stroke-linejoin="round"/>
<path d="M344.0 873.0 L349.6 883.3 L338.4 883.3 Z" fill="none" stroke="#000" stroke-width="3.6" stroke-linejoin="round"/>
<line x1="402.3" y1="845.7" x2="402.3" y2="900.5" stroke="#000" stroke-width="3.2"/>
<line x1="392.0" y1="873.1" x2="412.6" y2="873.1" stroke="#000" stroke-width="3.2"/>
<line x1="395.8" y1="845.7" x2="408.8" y2="845.7" stroke="#000" stroke-width="3.2"/>
<line x1="395.8" y1="900.5" x2="408.8" y2="900.5" stroke="#000" stroke-width="3.2"/>
<circle cx="402.0" cy="817.0" r="5.8" fill="#000"/>
<circle cx="404.9" cy="845.6" r="5.8" fill="#000"/>
<circle cx="402.3" cy="847.1" r="5.8" fill="#000"/>
<circle cx="401.3" cy="853.9" r="5.8" fill="#000"/>
<circle cx="406.4" cy="864.7" r="5.8" fill="#000"/>
<circle cx="397.6" cy="869.4" r="5.8" fill="#000"/>
<circle cx="393.5" cy="875.6" r="5.8" fill="#000"/>
<circle cx="411.1" cy="873.6" r="5.8" fill="#000"/>
<circle cx="402.8" cy="873.6" r="5.8" fill="#000"/>
<circle cx="403.9" cy="880.8" r="5.8" fill="#000"/>
<circle cx="403.3" cy="887.0" r="5.8" fill="#000"/>
<circle cx="401.3" cy="895.3" r="5.8" fill="#000"/>
<circle cx="410.6" cy="907.8" r="5.8" fill="#000"/>
<circle cx="396.6" cy="918.1" r="5.8" fill="#000"/>
<line x1="434.2" y1="822.3" x2="434.2" y2="889.1" stroke="#000" stroke-width="3.2"/>
<line x1="423.7" y1="855.7" x2="444.7" y2="855.7" stroke="#000" stroke-width="3.2"/>
<line x1="427.7" y1="822.3" x2="440.7" y2="822.3" stroke="#000" stroke-width="3.2"/>
<line x1="427.7" y1="889.1" x2="440.7" y2="889.1" stroke="#000" stroke-width="3.2"/>
<path d="M434.3 761.6 L439.9 771.9 L428.8 771.9 Z" fill="none" stroke="#000" stroke-width="3.6" stroke-linejoin="round"/>
<path d="M437.0 824.0 L442.6 834.3 L431.4 834.3 Z" fill="none" stroke="#000" stroke-width="3.6" stroke-linejoin="round"/>
<path d="M431.7 828.0 L437.2 838.3 L426.1 838.3 Z" fill="none" stroke="#000" stroke-width="3.6" stroke-linejoin="round"/>
<path d="M434.1 836.6 L439.7 846.9 L428.6 846.9 Z" fill="none" stroke="#000" stroke-width="3.6" stroke-linejoin="round"/>
<path d="M429.5 848.0 L435.1 858.3 L423.9 858.3 Z" fill="none" stroke="#000" stroke-width="3.6" stroke-linejoin="round"/>
<path d="M438.5 848.0 L444.1 858.3 L432.9 858.3 Z" fill="none" stroke="#000" stroke-width="3.6" stroke-linejoin="round"/>
<path d="M434.0 852.0 L439.6 862.3 L428.4 862.3 Z" fill="none" stroke="#000" stroke-width="3.6" stroke-linejoin="round"/>
<path d="M434.0 857.0 L439.6 867.3 L428.4 867.3 Z" fill="none" stroke="#000" stroke-width="3.6" stroke-linejoin="round"/>
<path d="M431.0 861.0 L436.6 871.3 L425.4 871.3 Z" fill="none" stroke="#000" stroke-width="3.6" stroke-linejoin="round"/>
<path d="M437.0 863.0 L442.6 873.3 L431.4 873.3 Z" fill="none" stroke="#000" stroke-width="3.6" stroke-linejoin="round"/>
<path d="M434.0 866.0 L439.6 876.3 L428.4 876.3 Z" fill="none" stroke="#000" stroke-width="3.6" stroke-linejoin="round"/>
<path d="M433.9 891.6 L439.4 901.9 L428.3 901.9 Z" fill="none" stroke="#000" stroke-width="3.6" stroke-linejoin="round"/>
<path d="M433.9 911.3 L439.4 921.6 L428.3 921.6 Z" fill="none" stroke="#000" stroke-width="3.6" stroke-linejoin="round"/>
<line x1="487.6" y1="830.4" x2="487.6" y2="903.7" stroke="#000" stroke-width="3.2"/>
<line x1="477.1" y1="867.1" x2="498.1" y2="867.1" stroke="#000" stroke-width="3.2"/>
<line x1="481.1" y1="830.4" x2="494.1" y2="830.4" stroke="#000" stroke-width="3.2"/>
<line x1="481.1" y1="903.7" x2="494.1" y2="903.7" stroke="#000" stroke-width="3.2"/>
<circle cx="487.5" cy="818.0" r="5.6" fill="#000"/>
<circle cx="484.0" cy="826.0" r="5.6" fill="#000"/>
<circle cx="490.0" cy="834.0" r="5.6" fill="#000"/>
<circle cx="493.0" cy="840.0" r="5.6" fill="#000"/>
<circle cx="478.0" cy="846.0" r="5.6" fill="#000"/>
<circle cx="493.0" cy="862.0" r="5.6" fill="#000"/>
<circle cx="496.0" cy="873.0" r="5.6" fill="#000"/>
<circle cx="481.0" cy="887.0" r="5.6" fill="#000"/>
<circle cx="478.0" cy="897.0" r="5.6" fill="#000"/>
<circle cx="487.0" cy="906.0" r="5.6" fill="#000"/>
<circle cx="497.0" cy="906.0" r="5.6" fill="#000"/>
<circle cx="490.0" cy="912.0" r="5.6" fill="#000"/>
<circle cx="488.0" cy="929.0" r="5.6" fill="#000"/>
<line x1="519.5" y1="817.6" x2="519.5" y2="910.8" stroke="#000" stroke-width="3.2"/>
<line x1="509.5" y1="864.2" x2="529.5" y2="864.2" stroke="#000" stroke-width="3.2"/>
<line x1="513.0" y1="817.6" x2="526.0" y2="817.6" stroke="#000" stroke-width="3.2"/>
<line x1="513.0" y1="910.8" x2="526.0" y2="910.8" stroke="#000" stroke-width="3.2"/>
<path d="M519.5 775.3 L525.0 785.6 L514.0 785.6 Z" fill="none" stroke="#000" stroke-width="3.6" stroke-linejoin="round"/>
<path d="M519.5 798.0 L525.0 808.3 L514.0 808.3 Z" fill="none" stroke="#000" stroke-width="3.6" stroke-linejoin="round"/>
<path d="M512.6 819.5 L518.1 829.8 L507.1 829.8 Z" fill="none" stroke="#000" stroke-width="3.6" stroke-linejoin="round"/>
<path d="M519.5 817.5 L525.0 827.8 L514.0 827.8 Z" fill="none" stroke="#000" stroke-width="3.6" stroke-linejoin="round"/>
<path d="M527.5 819.5 L533.0 829.8 L522.0 829.8 Z" fill="none" stroke="#000" stroke-width="3.6" stroke-linejoin="round"/>
<path d="M519.5 858.0 L525.0 868.3 L514.0 868.3 Z" fill="none" stroke="#000" stroke-width="3.6" stroke-linejoin="round"/>
<path d="M521.0 874.5 L526.5 884.8 L515.5 884.8 Z" fill="none" stroke="#000" stroke-width="3.6" stroke-linejoin="round"/>
<path d="M519.5 888.0 L525.0 898.3 L514.0 898.3 Z" fill="none" stroke="#000" stroke-width="3.6" stroke-linejoin="round"/>
<path d="M517.0 897.5 L522.5 907.8 L511.4 907.8 Z" fill="none" stroke="#000" stroke-width="3.6" stroke-linejoin="round"/>
<path d="M519.5 913.7 L525.0 924.0 L514.0 924.0 Z" fill="none" stroke="#000" stroke-width="3.6" stroke-linejoin="round"/>
<path d="M519.5 928.0 L525.0 938.3 L514.0 938.3 Z" fill="none" stroke="#000" stroke-width="3.6" stroke-linejoin="round"/>
</svg>
</body></html>
